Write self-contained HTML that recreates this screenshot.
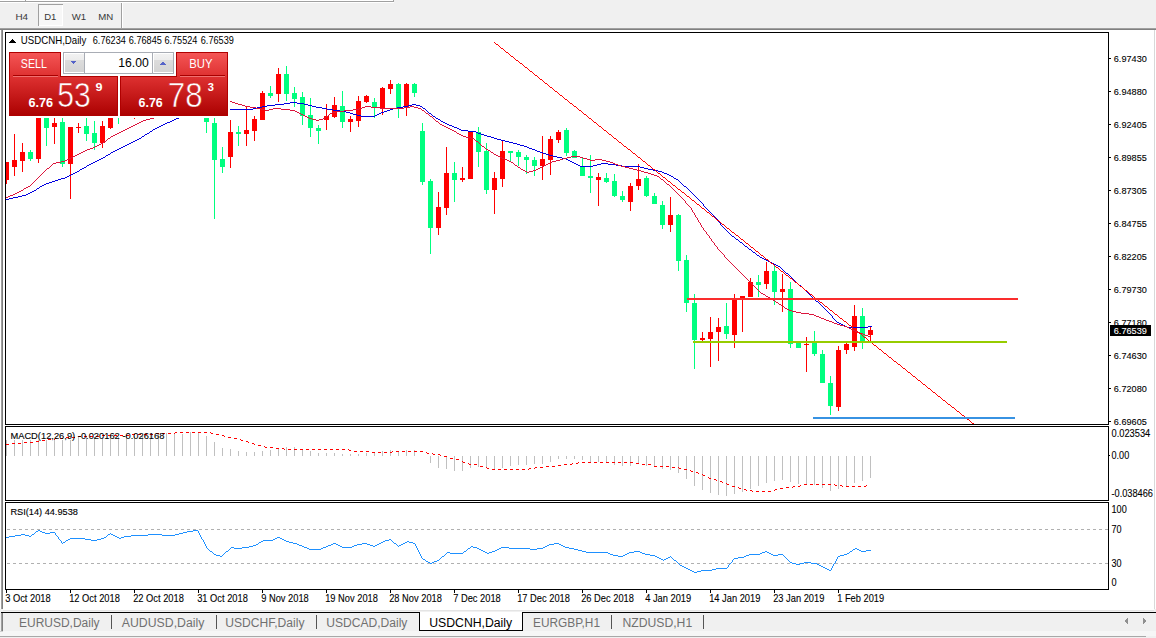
<!DOCTYPE html>
<html><head><meta charset="utf-8"><style>
html,body{margin:0;padding:0;background:#fff;overflow:hidden}
svg{display:block}
text{font-family:"Liberation Sans",sans-serif}
.b{stroke:#000;stroke-width:.12px}
.bw{stroke:#fff;stroke-width:.1px}
.b1{stroke:#000;stroke-width:.1px}
</style></head><body>
<svg width="1156" height="638" viewBox="0 0 1156 638" shape-rendering="crispEdges">
<rect x="0" y="0" width="1156" height="30" fill="#f0f0f0"/>
<rect x="0" y="0" width="394" height="1" fill="#ffffff"/>
<rect x="0" y="1" width="394" height="1" fill="#a0a0a0"/>
<rect x="393" y="0" width="1" height="2" fill="#a0a0a0"/>
<rect x="25" y="0" width="1" height="2" fill="#a0a0a0"/>
<rect x="0" y="2" width="394" height="1" fill="#ffffff"/>
<rect x="38" y="4" width="25" height="22" fill="#f7f7f7"/>
<rect x="38" y="4" width="25" height="1" fill="#a0a0a0"/>
<rect x="38" y="4" width="1" height="22" fill="#a0a0a0"/>
<rect x="62" y="5" width="1" height="21" fill="#ffffff"/>
<rect x="39" y="25" width="24" height="1" fill="#ffffff"/>
<text x="15.4" y="19.8" font-size="9.2" fill="#383838" textLength="12.6" lengthAdjust="spacingAndGlyphs">H4</text>
<text x="44.2" y="19.8" font-size="9.2" fill="#383838" textLength="12.2" lengthAdjust="spacingAndGlyphs">D1</text>
<text x="71.8" y="19.8" font-size="9.2" fill="#383838" textLength="14.4" lengthAdjust="spacingAndGlyphs">W1</text>
<text x="98.2" y="19.8" font-size="9.2" fill="#383838" textLength="15.0" lengthAdjust="spacingAndGlyphs">MN</text>
<rect x="121" y="3" width="1" height="25" fill="#a0a0a0"/>
<rect x="122" y="3" width="1" height="25" fill="#ffffff"/>
<rect x="0" y="28" width="1156" height="1" fill="#a0a0a0"/>
<rect x="0" y="29" width="1156" height="1" fill="#808080"/>
<rect x="0" y="30" width="1156" height="580" fill="#ffffff"/>
<rect x="1" y="30" width="1" height="580" fill="#a0a0a0"/>
<rect x="2" y="30" width="1" height="580" fill="#808080"/>
<rect x="1154" y="30" width="1" height="583" fill="#d8d8d8"/>
<defs><clipPath id="cm"><rect x="6" y="33" width="1102" height="391"/></clipPath>
<clipPath id="cmacd"><rect x="6" y="427" width="1102" height="73"/></clipPath>
<clipPath id="crsi"><rect x="6" y="503" width="1102" height="86"/></clipPath>
<linearGradient id="gboxu" gradientUnits="userSpaceOnUse" x1="0" y1="76" x2="0" y2="115.5"><stop offset="0" stop-color="#d82828"/><stop offset="1" stop-color="#ac0000"/></linearGradient>
</defs>
<g clip-path="url(#cm)">
<rect x="6" y="162" width="1" height="22" fill="#ff0000"/>
<rect x="4" y="162" width="5" height="18" fill="#ff0000"/>
<rect x="14" y="134" width="1" height="42" fill="#ff0000"/>
<rect x="12" y="160" width="5" height="7" fill="#ff0000"/>
<rect x="22" y="143" width="1" height="29" fill="#ff0000"/>
<rect x="20" y="152" width="5" height="9" fill="#ff0000"/>
<rect x="30" y="150" width="1" height="11" fill="#00ff7f"/>
<rect x="28" y="152" width="5" height="7" fill="#00ff7f"/>
<rect x="38" y="100" width="1" height="63" fill="#ff0000"/>
<rect x="36" y="100" width="5" height="59" fill="#ff0000"/>
<rect x="46" y="100" width="1" height="46" fill="#00ff7f"/>
<rect x="44" y="100" width="5" height="28" fill="#00ff7f"/>
<rect x="54" y="100" width="1" height="44" fill="#ff0000"/>
<rect x="52" y="123" width="5" height="4" fill="#ff0000"/>
<rect x="62" y="100" width="1" height="67" fill="#00ff7f"/>
<rect x="60" y="122" width="5" height="42" fill="#00ff7f"/>
<rect x="70" y="127" width="1" height="72" fill="#ff0000"/>
<rect x="68" y="127" width="5" height="37" fill="#ff0000"/>
<rect x="78" y="123" width="1" height="10" fill="#ff0000"/>
<rect x="76" y="127" width="5" height="1" fill="#ff0000"/>
<rect x="86" y="100" width="1" height="41" fill="#00ff7f"/>
<rect x="84" y="126" width="5" height="8" fill="#00ff7f"/>
<rect x="94" y="121" width="1" height="29" fill="#00ff7f"/>
<rect x="92" y="133" width="5" height="10" fill="#00ff7f"/>
<rect x="102" y="121" width="1" height="27" fill="#ff0000"/>
<rect x="100" y="126" width="5" height="17" fill="#ff0000"/>
<rect x="110" y="100" width="1" height="29" fill="#ff0000"/>
<rect x="108" y="100" width="5" height="28" fill="#ff0000"/>
<rect x="118" y="100" width="1" height="24" fill="#00ff7f"/>
<rect x="116" y="100" width="5" height="17" fill="#00ff7f"/>
<rect x="134" y="100" width="1" height="19" fill="#ff0000"/>
<rect x="132" y="100" width="5" height="5" fill="#ff0000"/>
<rect x="206" y="100" width="1" height="33" fill="#00ff7f"/>
<rect x="204" y="118" width="5" height="4" fill="#00ff7f"/>
<rect x="214" y="118" width="1" height="101" fill="#00ff7f"/>
<rect x="212" y="123" width="5" height="37" fill="#00ff7f"/>
<rect x="222" y="147" width="1" height="26" fill="#00ff7f"/>
<rect x="220" y="159" width="5" height="8" fill="#00ff7f"/>
<rect x="230" y="120" width="1" height="48" fill="#ff0000"/>
<rect x="228" y="132" width="5" height="25" fill="#ff0000"/>
<rect x="238" y="126" width="1" height="20" fill="#00ff7f"/>
<rect x="236" y="132" width="5" height="2" fill="#00ff7f"/>
<rect x="246" y="106" width="1" height="40" fill="#ff0000"/>
<rect x="244" y="130" width="5" height="4" fill="#ff0000"/>
<rect x="254" y="116" width="1" height="25" fill="#ff0000"/>
<rect x="252" y="119" width="5" height="12" fill="#ff0000"/>
<rect x="262" y="91" width="1" height="29" fill="#ff0000"/>
<rect x="260" y="93" width="5" height="27" fill="#ff0000"/>
<rect x="270" y="86" width="1" height="12" fill="#00ff7f"/>
<rect x="268" y="93" width="5" height="3" fill="#00ff7f"/>
<rect x="278" y="68" width="1" height="34" fill="#ff0000"/>
<rect x="276" y="74" width="5" height="20" fill="#ff0000"/>
<rect x="286" y="66" width="1" height="35" fill="#00ff7f"/>
<rect x="284" y="74" width="5" height="20" fill="#00ff7f"/>
<rect x="294" y="87" width="1" height="20" fill="#00ff7f"/>
<rect x="292" y="93" width="5" height="6" fill="#00ff7f"/>
<rect x="302" y="92" width="1" height="33" fill="#00ff7f"/>
<rect x="300" y="97" width="5" height="19" fill="#00ff7f"/>
<rect x="310" y="98" width="1" height="39" fill="#00ff7f"/>
<rect x="308" y="115" width="5" height="13" fill="#00ff7f"/>
<rect x="318" y="125" width="1" height="19" fill="#00ff7f"/>
<rect x="316" y="128" width="5" height="3" fill="#00ff7f"/>
<rect x="326" y="104" width="1" height="26" fill="#ff0000"/>
<rect x="324" y="116" width="5" height="4" fill="#ff0000"/>
<rect x="334" y="97" width="1" height="21" fill="#ff0000"/>
<rect x="332" y="105" width="5" height="12" fill="#ff0000"/>
<rect x="342" y="91" width="1" height="37" fill="#00ff7f"/>
<rect x="340" y="106" width="5" height="16" fill="#00ff7f"/>
<rect x="350" y="116" width="1" height="16" fill="#ff0000"/>
<rect x="348" y="119" width="5" height="3" fill="#ff0000"/>
<rect x="358" y="96" width="1" height="31" fill="#ff0000"/>
<rect x="356" y="101" width="5" height="20" fill="#ff0000"/>
<rect x="366" y="95" width="1" height="8" fill="#ff0000"/>
<rect x="364" y="96" width="5" height="6" fill="#ff0000"/>
<rect x="374" y="98" width="1" height="20" fill="#00ff7f"/>
<rect x="372" y="102" width="5" height="6" fill="#00ff7f"/>
<rect x="382" y="87" width="1" height="28" fill="#ff0000"/>
<rect x="380" y="88" width="5" height="20" fill="#ff0000"/>
<rect x="390" y="80" width="1" height="14" fill="#ff0000"/>
<rect x="388" y="84" width="5" height="5" fill="#ff0000"/>
<rect x="398" y="83" width="1" height="35" fill="#00ff7f"/>
<rect x="396" y="84" width="5" height="24" fill="#00ff7f"/>
<rect x="406" y="83" width="1" height="33" fill="#ff0000"/>
<rect x="404" y="84" width="5" height="24" fill="#ff0000"/>
<rect x="414" y="83" width="1" height="14" fill="#00ff7f"/>
<rect x="412" y="84" width="5" height="9" fill="#00ff7f"/>
<rect x="422" y="123" width="1" height="62" fill="#00ff7f"/>
<rect x="420" y="131" width="5" height="51" fill="#00ff7f"/>
<rect x="430" y="179" width="1" height="75" fill="#00ff7f"/>
<rect x="428" y="181" width="5" height="47" fill="#00ff7f"/>
<rect x="438" y="192" width="1" height="43" fill="#ff0000"/>
<rect x="436" y="207" width="5" height="21" fill="#ff0000"/>
<rect x="446" y="147" width="1" height="68" fill="#ff0000"/>
<rect x="444" y="173" width="5" height="35" fill="#ff0000"/>
<rect x="454" y="162" width="1" height="40" fill="#00ff7f"/>
<rect x="452" y="173" width="5" height="7" fill="#00ff7f"/>
<rect x="462" y="167" width="1" height="15" fill="#ff0000"/>
<rect x="460" y="178" width="5" height="2" fill="#ff0000"/>
<rect x="470" y="131" width="1" height="48" fill="#ff0000"/>
<rect x="468" y="131" width="5" height="48" fill="#ff0000"/>
<rect x="478" y="127" width="1" height="40" fill="#00ff7f"/>
<rect x="476" y="132" width="5" height="20" fill="#00ff7f"/>
<rect x="486" y="143" width="1" height="51" fill="#00ff7f"/>
<rect x="484" y="151" width="5" height="39" fill="#00ff7f"/>
<rect x="494" y="172" width="1" height="42" fill="#ff0000"/>
<rect x="492" y="178" width="5" height="12" fill="#ff0000"/>
<rect x="502" y="141" width="1" height="46" fill="#ff0000"/>
<rect x="500" y="151" width="5" height="28" fill="#ff0000"/>
<rect x="510" y="151" width="1" height="11" fill="#00ff7f"/>
<rect x="508" y="151" width="5" height="2" fill="#00ff7f"/>
<rect x="518" y="150" width="1" height="16" fill="#00ff7f"/>
<rect x="516" y="152" width="5" height="5" fill="#00ff7f"/>
<rect x="526" y="155" width="1" height="19" fill="#00ff7f"/>
<rect x="524" y="157" width="5" height="3" fill="#00ff7f"/>
<rect x="534" y="157" width="1" height="19" fill="#00ff7f"/>
<rect x="532" y="160" width="5" height="6" fill="#00ff7f"/>
<rect x="542" y="136" width="1" height="44" fill="#ff0000"/>
<rect x="540" y="159" width="5" height="7" fill="#ff0000"/>
<rect x="550" y="136" width="1" height="39" fill="#ff0000"/>
<rect x="548" y="139" width="5" height="21" fill="#ff0000"/>
<rect x="558" y="130" width="1" height="13" fill="#ff0000"/>
<rect x="556" y="132" width="5" height="8" fill="#ff0000"/>
<rect x="566" y="128" width="1" height="28" fill="#00ff7f"/>
<rect x="564" y="130" width="5" height="23" fill="#00ff7f"/>
<rect x="574" y="150" width="1" height="8" fill="#00ff7f"/>
<rect x="572" y="151" width="5" height="7" fill="#00ff7f"/>
<rect x="582" y="157" width="1" height="19" fill="#00ff7f"/>
<rect x="580" y="166" width="5" height="10" fill="#00ff7f"/>
<rect x="590" y="155" width="1" height="38" fill="#00ff7f"/>
<rect x="588" y="176" width="5" height="2" fill="#00ff7f"/>
<rect x="598" y="173" width="1" height="33" fill="#ff0000"/>
<rect x="596" y="177" width="5" height="3" fill="#ff0000"/>
<rect x="606" y="173" width="1" height="10" fill="#00ff7f"/>
<rect x="604" y="178" width="5" height="4" fill="#00ff7f"/>
<rect x="614" y="174" width="1" height="23" fill="#00ff7f"/>
<rect x="612" y="181" width="5" height="15" fill="#00ff7f"/>
<rect x="622" y="191" width="1" height="11" fill="#00ff7f"/>
<rect x="620" y="196" width="5" height="4" fill="#00ff7f"/>
<rect x="630" y="183" width="1" height="28" fill="#ff0000"/>
<rect x="628" y="186" width="5" height="16" fill="#ff0000"/>
<rect x="638" y="164" width="1" height="26" fill="#ff0000"/>
<rect x="636" y="179" width="5" height="7" fill="#ff0000"/>
<rect x="646" y="176" width="1" height="21" fill="#00ff7f"/>
<rect x="644" y="178" width="5" height="18" fill="#00ff7f"/>
<rect x="654" y="193" width="1" height="11" fill="#00ff7f"/>
<rect x="652" y="196" width="5" height="8" fill="#00ff7f"/>
<rect x="662" y="201" width="1" height="28" fill="#00ff7f"/>
<rect x="660" y="205" width="5" height="20" fill="#00ff7f"/>
<rect x="670" y="197" width="1" height="35" fill="#ff0000"/>
<rect x="668" y="215" width="5" height="10" fill="#ff0000"/>
<rect x="678" y="214" width="1" height="57" fill="#00ff7f"/>
<rect x="676" y="215" width="5" height="46" fill="#00ff7f"/>
<rect x="686" y="255" width="1" height="57" fill="#00ff7f"/>
<rect x="684" y="260" width="5" height="43" fill="#00ff7f"/>
<rect x="694" y="294" width="1" height="75" fill="#00ff7f"/>
<rect x="692" y="303" width="5" height="37" fill="#00ff7f"/>
<rect x="702" y="332" width="1" height="9" fill="#ff0000"/>
<rect x="700" y="338" width="5" height="2" fill="#ff0000"/>
<rect x="710" y="317" width="1" height="50" fill="#ff0000"/>
<rect x="708" y="332" width="5" height="7" fill="#ff0000"/>
<rect x="718" y="318" width="1" height="43" fill="#ff0000"/>
<rect x="716" y="327" width="5" height="5" fill="#ff0000"/>
<rect x="726" y="303" width="1" height="36" fill="#00ff7f"/>
<rect x="724" y="326" width="5" height="8" fill="#00ff7f"/>
<rect x="734" y="294" width="1" height="54" fill="#ff0000"/>
<rect x="732" y="298" width="5" height="37" fill="#ff0000"/>
<rect x="742" y="296" width="1" height="36" fill="#ff0000"/>
<rect x="740" y="296" width="5" height="2" fill="#ff0000"/>
<rect x="750" y="278" width="1" height="19" fill="#ff0000"/>
<rect x="748" y="282" width="5" height="15" fill="#ff0000"/>
<rect x="758" y="275" width="1" height="22" fill="#00ff7f"/>
<rect x="756" y="282" width="5" height="3" fill="#00ff7f"/>
<rect x="766" y="262" width="1" height="27" fill="#ff0000"/>
<rect x="764" y="271" width="5" height="13" fill="#ff0000"/>
<rect x="774" y="265" width="1" height="40" fill="#00ff7f"/>
<rect x="772" y="271" width="5" height="21" fill="#00ff7f"/>
<rect x="782" y="274" width="1" height="38" fill="#ff0000"/>
<rect x="780" y="289" width="5" height="3" fill="#ff0000"/>
<rect x="790" y="282" width="1" height="66" fill="#00ff7f"/>
<rect x="788" y="289" width="5" height="55" fill="#00ff7f"/>
<rect x="798" y="343" width="1" height="5" fill="#00ff7f"/>
<rect x="796" y="343" width="5" height="5" fill="#00ff7f"/>
<rect x="806" y="337" width="1" height="35" fill="#ff0000"/>
<rect x="804" y="344" width="5" height="1" fill="#ff0000"/>
<rect x="814" y="331" width="1" height="25" fill="#00ff7f"/>
<rect x="812" y="343" width="5" height="11" fill="#00ff7f"/>
<rect x="822" y="350" width="1" height="33" fill="#00ff7f"/>
<rect x="820" y="354" width="5" height="29" fill="#00ff7f"/>
<rect x="830" y="376" width="1" height="39" fill="#00ff7f"/>
<rect x="828" y="383" width="5" height="23" fill="#00ff7f"/>
<rect x="838" y="346" width="1" height="65" fill="#ff0000"/>
<rect x="836" y="350" width="5" height="57" fill="#ff0000"/>
<rect x="846" y="343" width="1" height="11" fill="#ff0000"/>
<rect x="844" y="344" width="5" height="6" fill="#ff0000"/>
<rect x="854" y="305" width="1" height="46" fill="#ff0000"/>
<rect x="852" y="316" width="5" height="31" fill="#ff0000"/>
<rect x="862" y="308" width="1" height="41" fill="#00ff7f"/>
<rect x="860" y="316" width="5" height="26" fill="#00ff7f"/>
<rect x="870" y="326" width="1" height="15" fill="#ff0000"/>
<rect x="868" y="330" width="5" height="5" fill="#ff0000"/>
<g fill="#0000e0"><rect x="290" y="102" width="7" height="1"/><rect x="284" y="103" width="6" height="1"/><rect x="297" y="103" width="7" height="1"/><rect x="275" y="104" width="9" height="1"/><rect x="304" y="104" width="4" height="1"/><rect x="412" y="104" width="4" height="1"/><rect x="267" y="105" width="8" height="1"/><rect x="308" y="105" width="4" height="1"/><rect x="408" y="105" width="4" height="1"/><rect x="416" y="105" width="4" height="1"/><rect x="262" y="106" width="5" height="1"/><rect x="312" y="106" width="4" height="1"/><rect x="403" y="106" width="5" height="1"/><rect x="420" y="106" width="2" height="1"/><rect x="257" y="107" width="5" height="1"/><rect x="316" y="107" width="6" height="1"/><rect x="397" y="107" width="6" height="1"/><rect x="422" y="107" width="1" height="1"/><rect x="253" y="108" width="4" height="1"/><rect x="322" y="108" width="5" height="1"/><rect x="393" y="108" width="4" height="1"/><rect x="423" y="108" width="2" height="1"/><rect x="215" y="109" width="38" height="1"/><rect x="327" y="109" width="6" height="1"/><rect x="390" y="109" width="3" height="1"/><rect x="425" y="109" width="1" height="1"/><rect x="199" y="110" width="16" height="1"/><rect x="333" y="110" width="7" height="1"/><rect x="387" y="110" width="3" height="1"/><rect x="426" y="110" width="1" height="1"/><rect x="196" y="111" width="3" height="1"/><rect x="340" y="111" width="6" height="1"/><rect x="384" y="111" width="3" height="1"/><rect x="427" y="111" width="1" height="1"/><rect x="193" y="112" width="3" height="1"/><rect x="346" y="112" width="4" height="1"/><rect x="381" y="112" width="3" height="1"/><rect x="428" y="112" width="1" height="1"/><rect x="190" y="113" width="3" height="1"/><rect x="350" y="113" width="3" height="1"/><rect x="379" y="113" width="2" height="1"/><rect x="429" y="113" width="2" height="1"/><rect x="188" y="114" width="2" height="1"/><rect x="353" y="114" width="4" height="1"/><rect x="377" y="114" width="2" height="1"/><rect x="431" y="114" width="1" height="1"/><rect x="185" y="115" width="3" height="1"/><rect x="357" y="115" width="4" height="1"/><rect x="375" y="115" width="2" height="1"/><rect x="432" y="115" width="1" height="1"/><rect x="182" y="116" width="3" height="1"/><rect x="361" y="116" width="14" height="1"/><rect x="433" y="116" width="2" height="1"/><rect x="179" y="117" width="3" height="1"/><rect x="435" y="117" width="1" height="1"/><rect x="176" y="118" width="3" height="1"/><rect x="436" y="118" width="2" height="1"/><rect x="174" y="119" width="2" height="1"/><rect x="438" y="119" width="2" height="1"/><rect x="172" y="120" width="2" height="1"/><rect x="440" y="120" width="1" height="1"/><rect x="170" y="121" width="2" height="1"/><rect x="441" y="121" width="2" height="1"/><rect x="167" y="122" width="3" height="1"/><rect x="443" y="122" width="2" height="1"/><rect x="165" y="123" width="2" height="1"/><rect x="445" y="123" width="2" height="1"/><rect x="163" y="124" width="2" height="1"/><rect x="447" y="124" width="2" height="1"/><rect x="161" y="125" width="2" height="1"/><rect x="449" y="125" width="3" height="1"/><rect x="159" y="126" width="2" height="1"/><rect x="452" y="126" width="2" height="1"/><rect x="157" y="127" width="2" height="1"/><rect x="454" y="127" width="3" height="1"/><rect x="155" y="128" width="2" height="1"/><rect x="457" y="128" width="2" height="1"/><rect x="153" y="129" width="2" height="1"/><rect x="459" y="129" width="2" height="1"/><rect x="152" y="130" width="1" height="1"/><rect x="461" y="130" width="7" height="1"/><rect x="150" y="131" width="2" height="1"/><rect x="468" y="131" width="8" height="1"/><rect x="149" y="132" width="1" height="1"/><rect x="476" y="132" width="2" height="1"/><rect x="147" y="133" width="2" height="1"/><rect x="478" y="133" width="3" height="1"/><rect x="145" y="134" width="2" height="1"/><rect x="481" y="134" width="3" height="1"/><rect x="144" y="135" width="1" height="1"/><rect x="484" y="135" width="3" height="1"/><rect x="142" y="136" width="2" height="1"/><rect x="487" y="136" width="4" height="1"/><rect x="141" y="137" width="1" height="1"/><rect x="491" y="137" width="3" height="1"/><rect x="139" y="138" width="2" height="1"/><rect x="494" y="138" width="3" height="1"/><rect x="137" y="139" width="2" height="1"/><rect x="497" y="139" width="4" height="1"/><rect x="135" y="140" width="2" height="1"/><rect x="501" y="140" width="4" height="1"/><rect x="133" y="141" width="2" height="1"/><rect x="505" y="141" width="4" height="1"/><rect x="131" y="142" width="2" height="1"/><rect x="509" y="142" width="4" height="1"/><rect x="129" y="143" width="2" height="1"/><rect x="513" y="143" width="4" height="1"/><rect x="127" y="144" width="2" height="1"/><rect x="517" y="144" width="3" height="1"/><rect x="125" y="145" width="2" height="1"/><rect x="520" y="145" width="4" height="1"/><rect x="123" y="146" width="2" height="1"/><rect x="524" y="146" width="3" height="1"/><rect x="121" y="147" width="2" height="1"/><rect x="527" y="147" width="2" height="1"/><rect x="119" y="148" width="2" height="1"/><rect x="529" y="148" width="3" height="1"/><rect x="117" y="149" width="2" height="1"/><rect x="532" y="149" width="3" height="1"/><rect x="115" y="150" width="2" height="1"/><rect x="535" y="150" width="2" height="1"/><rect x="113" y="151" width="2" height="1"/><rect x="537" y="151" width="3" height="1"/><rect x="111" y="152" width="2" height="1"/><rect x="540" y="152" width="3" height="1"/><rect x="110" y="153" width="1" height="1"/><rect x="543" y="153" width="3" height="1"/><rect x="108" y="154" width="2" height="1"/><rect x="546" y="154" width="3" height="1"/><rect x="106" y="155" width="2" height="1"/><rect x="549" y="155" width="4" height="1"/><rect x="105" y="156" width="1" height="1"/><rect x="553" y="156" width="4" height="1"/><rect x="103" y="157" width="2" height="1"/><rect x="557" y="157" width="5" height="1"/><rect x="101" y="158" width="2" height="1"/><rect x="562" y="158" width="4" height="1"/><rect x="99" y="159" width="2" height="1"/><rect x="566" y="159" width="2" height="1"/><rect x="97" y="160" width="2" height="1"/><rect x="568" y="160" width="2" height="1"/><rect x="95" y="161" width="2" height="1"/><rect x="570" y="161" width="2" height="1"/><rect x="93" y="162" width="2" height="1"/><rect x="572" y="162" width="2" height="1"/><rect x="91" y="163" width="2" height="1"/><rect x="574" y="163" width="2" height="1"/><rect x="601" y="163" width="7" height="1"/><rect x="89" y="164" width="2" height="1"/><rect x="576" y="164" width="2" height="1"/><rect x="597" y="164" width="4" height="1"/><rect x="608" y="164" width="8" height="1"/><rect x="87" y="165" width="2" height="1"/><rect x="578" y="165" width="2" height="1"/><rect x="593" y="165" width="4" height="1"/><rect x="616" y="165" width="6" height="1"/><rect x="86" y="166" width="1" height="1"/><rect x="580" y="166" width="13" height="1"/><rect x="622" y="166" width="18" height="1"/><rect x="84" y="167" width="2" height="1"/><rect x="640" y="167" width="4" height="1"/><rect x="82" y="168" width="2" height="1"/><rect x="644" y="168" width="4" height="1"/><rect x="80" y="169" width="2" height="1"/><rect x="648" y="169" width="5" height="1"/><rect x="79" y="170" width="1" height="1"/><rect x="653" y="170" width="5" height="1"/><rect x="77" y="171" width="2" height="1"/><rect x="658" y="171" width="4" height="1"/><rect x="75" y="172" width="2" height="1"/><rect x="662" y="172" width="2" height="1"/><rect x="73" y="173" width="2" height="1"/><rect x="664" y="173" width="3" height="1"/><rect x="71" y="174" width="2" height="1"/><rect x="667" y="174" width="2" height="1"/><rect x="69" y="175" width="2" height="1"/><rect x="669" y="175" width="2" height="1"/><rect x="67" y="176" width="2" height="1"/><rect x="671" y="176" width="2" height="1"/><rect x="65" y="177" width="2" height="1"/><rect x="673" y="177" width="1" height="1"/><rect x="61" y="178" width="4" height="1"/><rect x="674" y="178" width="2" height="1"/><rect x="58" y="179" width="3" height="1"/><rect x="676" y="179" width="2" height="1"/><rect x="55" y="180" width="3" height="1"/><rect x="678" y="180" width="1" height="1"/><rect x="52" y="181" width="3" height="1"/><rect x="679" y="181" width="1" height="1"/><rect x="49" y="182" width="3" height="1"/><rect x="680" y="182" width="1" height="1"/><rect x="46" y="183" width="3" height="1"/><rect x="681" y="183" width="1" height="1"/><rect x="44" y="184" width="2" height="1"/><rect x="682" y="184" width="1" height="1"/><rect x="42" y="185" width="2" height="1"/><rect x="683" y="185" width="1" height="1"/><rect x="40" y="186" width="2" height="1"/><rect x="684" y="186" width="2" height="1"/><rect x="39" y="187" width="1" height="1"/><rect x="686" y="187" width="1" height="1"/><rect x="37" y="188" width="2" height="1"/><rect x="687" y="188" width="1" height="1"/><rect x="36" y="189" width="1" height="1"/><rect x="688" y="189" width="1" height="1"/><rect x="34" y="190" width="2" height="1"/><rect x="689" y="190" width="1" height="1"/><rect x="32" y="191" width="2" height="1"/><rect x="690" y="191" width="1" height="1"/><rect x="30" y="192" width="2" height="1"/><rect x="691" y="192" width="1" height="1"/><rect x="28" y="193" width="2" height="1"/><rect x="692" y="193" width="1" height="1"/><rect x="26" y="194" width="2" height="1"/><rect x="693" y="194" width="1" height="1"/><rect x="22" y="195" width="4" height="1"/><rect x="694" y="195" width="1" height="1"/><rect x="18" y="196" width="4" height="1"/><rect x="695" y="196" width="1" height="1"/><rect x="13" y="197" width="5" height="1"/><rect x="696" y="197" width="1" height="1"/><rect x="9" y="198" width="4" height="1"/><rect x="697" y="198" width="1" height="1"/><rect x="6" y="199" width="3" height="1"/><rect x="698" y="199" width="1" height="1"/><rect x="699" y="200" width="1" height="1"/><rect x="700" y="201" width="1" height="1"/><rect x="701" y="202" width="1" height="1"/><rect x="702" y="203" width="1" height="1"/><rect x="703" y="204" width="1" height="1"/><rect x="703" y="205" width="1" height="1"/><rect x="704" y="206" width="1" height="1"/><rect x="705" y="207" width="1" height="1"/><rect x="706" y="208" width="1" height="1"/><rect x="707" y="209" width="1" height="1"/><rect x="708" y="210" width="1" height="1"/><rect x="709" y="211" width="1" height="1"/><rect x="710" y="212" width="1" height="1"/><rect x="711" y="213" width="1" height="1"/><rect x="712" y="214" width="1" height="1"/><rect x="713" y="215" width="1" height="1"/><rect x="714" y="216" width="1" height="1"/><rect x="715" y="217" width="1" height="1"/><rect x="716" y="218" width="1" height="1"/><rect x="717" y="219" width="1" height="1"/><rect x="717" y="220" width="1" height="1"/><rect x="718" y="221" width="1" height="1"/><rect x="719" y="222" width="1" height="1"/><rect x="720" y="223" width="1" height="1"/><rect x="720" y="224" width="1" height="1"/><rect x="721" y="225" width="1" height="1"/><rect x="722" y="226" width="1" height="1"/><rect x="723" y="227" width="1" height="1"/><rect x="724" y="228" width="1" height="1"/><rect x="725" y="229" width="1" height="1"/><rect x="726" y="230" width="1" height="1"/><rect x="727" y="231" width="1" height="1"/><rect x="728" y="232" width="1" height="1"/><rect x="729" y="233" width="1" height="1"/><rect x="730" y="234" width="1" height="1"/><rect x="731" y="235" width="1" height="1"/><rect x="732" y="236" width="2" height="1"/><rect x="734" y="237" width="1" height="1"/><rect x="735" y="238" width="1" height="1"/><rect x="736" y="239" width="2" height="1"/><rect x="738" y="240" width="1" height="1"/><rect x="739" y="241" width="1" height="1"/><rect x="740" y="242" width="2" height="1"/><rect x="742" y="243" width="1" height="1"/><rect x="743" y="244" width="1" height="1"/><rect x="744" y="245" width="1" height="1"/><rect x="745" y="246" width="2" height="1"/><rect x="747" y="247" width="1" height="1"/><rect x="748" y="248" width="1" height="1"/><rect x="749" y="249" width="2" height="1"/><rect x="751" y="250" width="1" height="1"/><rect x="752" y="251" width="1" height="1"/><rect x="753" y="252" width="2" height="1"/><rect x="755" y="253" width="1" height="1"/><rect x="756" y="254" width="1" height="1"/><rect x="757" y="255" width="2" height="1"/><rect x="759" y="256" width="1" height="1"/><rect x="760" y="257" width="2" height="1"/><rect x="762" y="258" width="2" height="1"/><rect x="764" y="259" width="2" height="1"/><rect x="766" y="260" width="2" height="1"/><rect x="768" y="261" width="2" height="1"/><rect x="770" y="262" width="2" height="1"/><rect x="772" y="263" width="2" height="1"/><rect x="774" y="264" width="2" height="1"/><rect x="776" y="265" width="2" height="1"/><rect x="778" y="266" width="2" height="1"/><rect x="780" y="267" width="1" height="1"/><rect x="781" y="268" width="1" height="1"/><rect x="782" y="269" width="1" height="1"/><rect x="783" y="270" width="1" height="1"/><rect x="784" y="271" width="1" height="1"/><rect x="785" y="272" width="1" height="1"/><rect x="786" y="273" width="2" height="1"/><rect x="788" y="274" width="1" height="1"/><rect x="789" y="275" width="1" height="1"/><rect x="790" y="276" width="1" height="1"/><rect x="791" y="277" width="1" height="1"/><rect x="792" y="278" width="1" height="1"/><rect x="793" y="279" width="1" height="1"/><rect x="794" y="280" width="1" height="1"/><rect x="795" y="281" width="1" height="1"/><rect x="796" y="282" width="1" height="1"/><rect x="797" y="283" width="1" height="1"/><rect x="798" y="284" width="1" height="1"/><rect x="799" y="285" width="2" height="1"/><rect x="801" y="286" width="1" height="1"/><rect x="802" y="287" width="1" height="1"/><rect x="803" y="288" width="1" height="1"/><rect x="804" y="289" width="1" height="1"/><rect x="805" y="290" width="1" height="1"/><rect x="806" y="291" width="1" height="1"/><rect x="807" y="292" width="1" height="1"/><rect x="808" y="293" width="1" height="1"/><rect x="809" y="294" width="1" height="1"/><rect x="810" y="295" width="1" height="1"/><rect x="811" y="296" width="1" height="1"/><rect x="812" y="297" width="1" height="1"/><rect x="813" y="298" width="1" height="1"/><rect x="814" y="299" width="1" height="1"/><rect x="815" y="300" width="1" height="1"/><rect x="816" y="301" width="2" height="1"/><rect x="818" y="302" width="1" height="1"/><rect x="819" y="303" width="1" height="1"/><rect x="820" y="304" width="1" height="1"/><rect x="821" y="305" width="1" height="1"/><rect x="822" y="306" width="1" height="1"/><rect x="823" y="307" width="1" height="1"/><rect x="824" y="308" width="1" height="1"/><rect x="825" y="309" width="1" height="1"/><rect x="826" y="310" width="1" height="1"/><rect x="827" y="311" width="1" height="1"/><rect x="828" y="312" width="1" height="1"/><rect x="829" y="313" width="1" height="1"/><rect x="830" y="314" width="1" height="1"/><rect x="831" y="315" width="1" height="1"/><rect x="832" y="316" width="1" height="1"/><rect x="832" y="317" width="1" height="1"/><rect x="833" y="318" width="1" height="1"/><rect x="834" y="319" width="1" height="1"/><rect x="835" y="320" width="1" height="1"/><rect x="836" y="321" width="1" height="1"/><rect x="837" y="322" width="2" height="1"/><rect x="839" y="323" width="2" height="1"/><rect x="841" y="324" width="2" height="1"/><rect x="843" y="325" width="2" height="1"/><rect x="845" y="326" width="2" height="1"/><rect x="868" y="326" width="4" height="1"/><rect x="847" y="327" width="21" height="1"/></g>
<g fill="#dc143c"><rect x="227" y="101" width="5" height="1"/><rect x="219" y="102" width="8" height="1"/><rect x="232" y="102" width="3" height="1"/><rect x="212" y="103" width="7" height="1"/><rect x="235" y="103" width="3" height="1"/><rect x="204" y="104" width="8" height="1"/><rect x="238" y="104" width="4" height="1"/><rect x="199" y="105" width="5" height="1"/><rect x="242" y="105" width="3" height="1"/><rect x="195" y="106" width="4" height="1"/><rect x="245" y="106" width="5" height="1"/><rect x="365" y="106" width="6" height="1"/><rect x="410" y="106" width="4" height="1"/><rect x="192" y="107" width="3" height="1"/><rect x="250" y="107" width="6" height="1"/><rect x="362" y="107" width="3" height="1"/><rect x="371" y="107" width="9" height="1"/><rect x="404" y="107" width="6" height="1"/><rect x="414" y="107" width="4" height="1"/><rect x="188" y="108" width="4" height="1"/><rect x="256" y="108" width="5" height="1"/><rect x="273" y="108" width="8" height="1"/><rect x="359" y="108" width="3" height="1"/><rect x="380" y="108" width="24" height="1"/><rect x="418" y="108" width="3" height="1"/><rect x="184" y="109" width="4" height="1"/><rect x="261" y="109" width="4" height="1"/><rect x="269" y="109" width="4" height="1"/><rect x="281" y="109" width="9" height="1"/><rect x="353" y="109" width="6" height="1"/><rect x="421" y="109" width="1" height="1"/><rect x="181" y="110" width="3" height="1"/><rect x="265" y="110" width="4" height="1"/><rect x="290" y="110" width="5" height="1"/><rect x="344" y="110" width="9" height="1"/><rect x="422" y="110" width="2" height="1"/><rect x="177" y="111" width="4" height="1"/><rect x="295" y="111" width="2" height="1"/><rect x="336" y="111" width="8" height="1"/><rect x="424" y="111" width="1" height="1"/><rect x="174" y="112" width="3" height="1"/><rect x="297" y="112" width="2" height="1"/><rect x="332" y="112" width="4" height="1"/><rect x="425" y="112" width="1" height="1"/><rect x="170" y="113" width="4" height="1"/><rect x="299" y="113" width="2" height="1"/><rect x="330" y="113" width="2" height="1"/><rect x="426" y="113" width="2" height="1"/><rect x="166" y="114" width="4" height="1"/><rect x="301" y="114" width="2" height="1"/><rect x="329" y="114" width="1" height="1"/><rect x="428" y="114" width="1" height="1"/><rect x="162" y="115" width="4" height="1"/><rect x="303" y="115" width="2" height="1"/><rect x="328" y="115" width="1" height="1"/><rect x="429" y="115" width="1" height="1"/><rect x="158" y="116" width="4" height="1"/><rect x="305" y="116" width="2" height="1"/><rect x="326" y="116" width="2" height="1"/><rect x="430" y="116" width="2" height="1"/><rect x="154" y="117" width="4" height="1"/><rect x="307" y="117" width="2" height="1"/><rect x="325" y="117" width="1" height="1"/><rect x="432" y="117" width="1" height="1"/><rect x="150" y="118" width="4" height="1"/><rect x="309" y="118" width="3" height="1"/><rect x="323" y="118" width="2" height="1"/><rect x="433" y="118" width="1" height="1"/><rect x="146" y="119" width="4" height="1"/><rect x="312" y="119" width="4" height="1"/><rect x="319" y="119" width="4" height="1"/><rect x="434" y="119" width="1" height="1"/><rect x="143" y="120" width="3" height="1"/><rect x="316" y="120" width="3" height="1"/><rect x="435" y="120" width="1" height="1"/><rect x="141" y="121" width="2" height="1"/><rect x="436" y="121" width="2" height="1"/><rect x="139" y="122" width="2" height="1"/><rect x="438" y="122" width="1" height="1"/><rect x="137" y="123" width="2" height="1"/><rect x="439" y="123" width="1" height="1"/><rect x="135" y="124" width="2" height="1"/><rect x="440" y="124" width="2" height="1"/><rect x="133" y="125" width="2" height="1"/><rect x="442" y="125" width="2" height="1"/><rect x="131" y="126" width="2" height="1"/><rect x="444" y="126" width="2" height="1"/><rect x="129" y="127" width="2" height="1"/><rect x="446" y="127" width="2" height="1"/><rect x="127" y="128" width="2" height="1"/><rect x="448" y="128" width="2" height="1"/><rect x="125" y="129" width="2" height="1"/><rect x="450" y="129" width="2" height="1"/><rect x="123" y="130" width="2" height="1"/><rect x="452" y="130" width="2" height="1"/><rect x="121" y="131" width="2" height="1"/><rect x="454" y="131" width="2" height="1"/><rect x="119" y="132" width="2" height="1"/><rect x="456" y="132" width="1" height="1"/><rect x="117" y="133" width="2" height="1"/><rect x="457" y="133" width="2" height="1"/><rect x="115" y="134" width="2" height="1"/><rect x="459" y="134" width="2" height="1"/><rect x="113" y="135" width="2" height="1"/><rect x="461" y="135" width="2" height="1"/><rect x="111" y="136" width="2" height="1"/><rect x="463" y="136" width="3" height="1"/><rect x="110" y="137" width="1" height="1"/><rect x="466" y="137" width="5" height="1"/><rect x="108" y="138" width="2" height="1"/><rect x="471" y="138" width="3" height="1"/><rect x="107" y="139" width="1" height="1"/><rect x="474" y="139" width="1" height="1"/><rect x="106" y="140" width="1" height="1"/><rect x="475" y="140" width="1" height="1"/><rect x="104" y="141" width="2" height="1"/><rect x="476" y="141" width="2" height="1"/><rect x="103" y="142" width="1" height="1"/><rect x="478" y="142" width="1" height="1"/><rect x="101" y="143" width="2" height="1"/><rect x="479" y="143" width="1" height="1"/><rect x="99" y="144" width="2" height="1"/><rect x="480" y="144" width="1" height="1"/><rect x="97" y="145" width="2" height="1"/><rect x="481" y="145" width="1" height="1"/><rect x="95" y="146" width="2" height="1"/><rect x="482" y="146" width="2" height="1"/><rect x="93" y="147" width="2" height="1"/><rect x="484" y="147" width="1" height="1"/><rect x="90" y="148" width="3" height="1"/><rect x="485" y="148" width="1" height="1"/><rect x="87" y="149" width="3" height="1"/><rect x="486" y="149" width="2" height="1"/><rect x="85" y="150" width="2" height="1"/><rect x="488" y="150" width="2" height="1"/><rect x="83" y="151" width="2" height="1"/><rect x="490" y="151" width="1" height="1"/><rect x="81" y="152" width="2" height="1"/><rect x="491" y="152" width="2" height="1"/><rect x="79" y="153" width="2" height="1"/><rect x="493" y="153" width="1" height="1"/><rect x="77" y="154" width="2" height="1"/><rect x="494" y="154" width="2" height="1"/><rect x="75" y="155" width="2" height="1"/><rect x="496" y="155" width="2" height="1"/><rect x="73" y="156" width="2" height="1"/><rect x="498" y="156" width="2" height="1"/><rect x="571" y="156" width="9" height="1"/><rect x="71" y="157" width="2" height="1"/><rect x="500" y="157" width="2" height="1"/><rect x="567" y="157" width="4" height="1"/><rect x="580" y="157" width="3" height="1"/><rect x="69" y="158" width="2" height="1"/><rect x="502" y="158" width="2" height="1"/><rect x="563" y="158" width="4" height="1"/><rect x="583" y="158" width="4" height="1"/><rect x="67" y="159" width="2" height="1"/><rect x="504" y="159" width="3" height="1"/><rect x="560" y="159" width="3" height="1"/><rect x="587" y="159" width="3" height="1"/><rect x="595" y="159" width="7" height="1"/><rect x="65" y="160" width="2" height="1"/><rect x="507" y="160" width="2" height="1"/><rect x="556" y="160" width="4" height="1"/><rect x="590" y="160" width="5" height="1"/><rect x="602" y="160" width="4" height="1"/><rect x="61" y="161" width="4" height="1"/><rect x="509" y="161" width="2" height="1"/><rect x="552" y="161" width="4" height="1"/><rect x="606" y="161" width="4" height="1"/><rect x="56" y="162" width="5" height="1"/><rect x="511" y="162" width="2" height="1"/><rect x="550" y="162" width="2" height="1"/><rect x="610" y="162" width="3" height="1"/><rect x="53" y="163" width="3" height="1"/><rect x="513" y="163" width="1" height="1"/><rect x="548" y="163" width="2" height="1"/><rect x="613" y="163" width="2" height="1"/><rect x="52" y="164" width="1" height="1"/><rect x="514" y="164" width="1" height="1"/><rect x="546" y="164" width="2" height="1"/><rect x="615" y="164" width="3" height="1"/><rect x="51" y="165" width="1" height="1"/><rect x="515" y="165" width="2" height="1"/><rect x="544" y="165" width="2" height="1"/><rect x="618" y="165" width="3" height="1"/><rect x="50" y="166" width="1" height="1"/><rect x="517" y="166" width="1" height="1"/><rect x="542" y="166" width="2" height="1"/><rect x="621" y="166" width="4" height="1"/><rect x="49" y="167" width="1" height="1"/><rect x="518" y="167" width="2" height="1"/><rect x="540" y="167" width="2" height="1"/><rect x="625" y="167" width="4" height="1"/><rect x="47" y="168" width="2" height="1"/><rect x="520" y="168" width="1" height="1"/><rect x="538" y="168" width="2" height="1"/><rect x="629" y="168" width="4" height="1"/><rect x="46" y="169" width="1" height="1"/><rect x="521" y="169" width="2" height="1"/><rect x="536" y="169" width="2" height="1"/><rect x="633" y="169" width="4" height="1"/><rect x="45" y="170" width="1" height="1"/><rect x="523" y="170" width="2" height="1"/><rect x="533" y="170" width="3" height="1"/><rect x="637" y="170" width="4" height="1"/><rect x="44" y="171" width="1" height="1"/><rect x="525" y="171" width="2" height="1"/><rect x="529" y="171" width="4" height="1"/><rect x="641" y="171" width="3" height="1"/><rect x="43" y="172" width="1" height="1"/><rect x="527" y="172" width="2" height="1"/><rect x="644" y="172" width="4" height="1"/><rect x="42" y="173" width="1" height="1"/><rect x="648" y="173" width="3" height="1"/><rect x="41" y="174" width="1" height="1"/><rect x="651" y="174" width="3" height="1"/><rect x="40" y="175" width="1" height="1"/><rect x="654" y="175" width="3" height="1"/><rect x="39" y="176" width="1" height="1"/><rect x="657" y="176" width="2" height="1"/><rect x="38" y="177" width="1" height="1"/><rect x="659" y="177" width="1" height="1"/><rect x="37" y="178" width="1" height="1"/><rect x="660" y="178" width="1" height="1"/><rect x="36" y="179" width="1" height="1"/><rect x="661" y="179" width="2" height="1"/><rect x="35" y="180" width="1" height="1"/><rect x="663" y="180" width="1" height="1"/><rect x="34" y="181" width="1" height="1"/><rect x="664" y="181" width="1" height="1"/><rect x="33" y="182" width="1" height="1"/><rect x="665" y="182" width="1" height="1"/><rect x="32" y="183" width="1" height="1"/><rect x="666" y="183" width="1" height="1"/><rect x="31" y="184" width="1" height="1"/><rect x="667" y="184" width="2" height="1"/><rect x="30" y="185" width="1" height="1"/><rect x="669" y="185" width="1" height="1"/><rect x="28" y="186" width="2" height="1"/><rect x="670" y="186" width="1" height="1"/><rect x="26" y="187" width="2" height="1"/><rect x="671" y="187" width="1" height="1"/><rect x="24" y="188" width="2" height="1"/><rect x="672" y="188" width="1" height="1"/><rect x="23" y="189" width="1" height="1"/><rect x="673" y="189" width="1" height="1"/><rect x="21" y="190" width="2" height="1"/><rect x="674" y="190" width="1" height="1"/><rect x="19" y="191" width="2" height="1"/><rect x="675" y="191" width="1" height="1"/><rect x="17" y="192" width="2" height="1"/><rect x="676" y="192" width="1" height="1"/><rect x="15" y="193" width="2" height="1"/><rect x="677" y="193" width="1" height="1"/><rect x="13" y="194" width="2" height="1"/><rect x="678" y="194" width="1" height="1"/><rect x="10" y="195" width="3" height="1"/><rect x="679" y="195" width="1" height="1"/><rect x="8" y="196" width="2" height="1"/><rect x="680" y="196" width="1" height="1"/><rect x="6" y="197" width="2" height="1"/><rect x="681" y="197" width="1" height="1"/><rect x="682" y="198" width="1" height="1"/><rect x="683" y="199" width="1" height="1"/><rect x="684" y="200" width="1" height="1"/><rect x="685" y="201" width="1" height="1"/><rect x="685" y="202" width="1" height="1"/><rect x="686" y="203" width="1" height="1"/><rect x="687" y="204" width="1" height="1"/><rect x="688" y="205" width="1" height="1"/><rect x="689" y="206" width="1" height="1"/><rect x="690" y="207" width="1" height="1"/><rect x="691" y="208" width="1" height="1"/><rect x="691" y="209" width="1" height="1"/><rect x="692" y="210" width="1" height="1"/><rect x="692" y="211" width="1" height="1"/><rect x="693" y="212" width="1" height="1"/><rect x="694" y="213" width="1" height="1"/><rect x="694" y="214" width="1" height="1"/><rect x="695" y="215" width="1" height="1"/><rect x="695" y="216" width="1" height="1"/><rect x="696" y="217" width="1" height="1"/><rect x="697" y="218" width="1" height="1"/><rect x="697" y="219" width="1" height="1"/><rect x="698" y="220" width="1" height="1"/><rect x="698" y="221" width="1" height="1"/><rect x="699" y="222" width="1" height="1"/><rect x="700" y="223" width="1" height="1"/><rect x="700" y="224" width="1" height="1"/><rect x="701" y="225" width="1" height="1"/><rect x="701" y="226" width="1" height="1"/><rect x="702" y="227" width="1" height="1"/><rect x="703" y="228" width="1" height="1"/><rect x="703" y="229" width="1" height="1"/><rect x="704" y="230" width="1" height="1"/><rect x="705" y="231" width="1" height="1"/><rect x="706" y="232" width="1" height="1"/><rect x="706" y="233" width="1" height="1"/><rect x="707" y="234" width="1" height="1"/><rect x="708" y="235" width="1" height="1"/><rect x="709" y="236" width="1" height="1"/><rect x="709" y="237" width="1" height="1"/><rect x="710" y="238" width="1" height="1"/><rect x="711" y="239" width="1" height="1"/><rect x="711" y="240" width="1" height="1"/><rect x="712" y="241" width="1" height="1"/><rect x="713" y="242" width="1" height="1"/><rect x="714" y="243" width="1" height="1"/><rect x="714" y="244" width="1" height="1"/><rect x="715" y="245" width="1" height="1"/><rect x="716" y="246" width="1" height="1"/><rect x="717" y="247" width="1" height="1"/><rect x="717" y="248" width="1" height="1"/><rect x="718" y="249" width="1" height="1"/><rect x="719" y="250" width="1" height="1"/><rect x="720" y="251" width="1" height="1"/><rect x="721" y="252" width="1" height="1"/><rect x="722" y="253" width="1" height="1"/><rect x="723" y="254" width="1" height="1"/><rect x="724" y="255" width="1" height="1"/><rect x="724" y="256" width="1" height="1"/><rect x="725" y="257" width="1" height="1"/><rect x="726" y="258" width="1" height="1"/><rect x="727" y="259" width="1" height="1"/><rect x="728" y="260" width="1" height="1"/><rect x="729" y="261" width="1" height="1"/><rect x="730" y="262" width="1" height="1"/><rect x="731" y="263" width="1" height="1"/><rect x="732" y="264" width="1" height="1"/><rect x="733" y="265" width="1" height="1"/><rect x="734" y="266" width="1" height="1"/><rect x="735" y="267" width="1" height="1"/><rect x="736" y="268" width="1" height="1"/><rect x="737" y="269" width="1" height="1"/><rect x="738" y="270" width="1" height="1"/><rect x="739" y="271" width="1" height="1"/><rect x="740" y="272" width="1" height="1"/><rect x="741" y="273" width="1" height="1"/><rect x="742" y="274" width="1" height="1"/><rect x="743" y="275" width="1" height="1"/><rect x="744" y="276" width="1" height="1"/><rect x="745" y="277" width="1" height="1"/><rect x="746" y="278" width="1" height="1"/><rect x="747" y="279" width="1" height="1"/><rect x="748" y="280" width="1" height="1"/><rect x="749" y="281" width="1" height="1"/><rect x="750" y="282" width="1" height="1"/><rect x="751" y="283" width="1" height="1"/><rect x="752" y="284" width="1" height="1"/><rect x="753" y="285" width="1" height="1"/><rect x="754" y="286" width="1" height="1"/><rect x="755" y="287" width="1" height="1"/><rect x="756" y="288" width="1" height="1"/><rect x="757" y="289" width="1" height="1"/><rect x="758" y="290" width="1" height="1"/><rect x="759" y="291" width="1" height="1"/><rect x="760" y="292" width="1" height="1"/><rect x="761" y="293" width="2" height="1"/><rect x="763" y="294" width="2" height="1"/><rect x="765" y="295" width="1" height="1"/><rect x="766" y="296" width="2" height="1"/><rect x="768" y="297" width="2" height="1"/><rect x="770" y="298" width="1" height="1"/><rect x="771" y="299" width="2" height="1"/><rect x="773" y="300" width="2" height="1"/><rect x="775" y="301" width="1" height="1"/><rect x="776" y="302" width="2" height="1"/><rect x="778" y="303" width="1" height="1"/><rect x="779" y="304" width="2" height="1"/><rect x="781" y="305" width="1" height="1"/><rect x="782" y="306" width="2" height="1"/><rect x="784" y="307" width="1" height="1"/><rect x="785" y="308" width="2" height="1"/><rect x="787" y="309" width="2" height="1"/><rect x="789" y="310" width="3" height="1"/><rect x="792" y="311" width="4" height="1"/><rect x="796" y="312" width="5" height="1"/><rect x="801" y="313" width="8" height="1"/><rect x="809" y="314" width="5" height="1"/><rect x="814" y="315" width="2" height="1"/><rect x="816" y="316" width="3" height="1"/><rect x="819" y="317" width="2" height="1"/><rect x="821" y="318" width="3" height="1"/><rect x="824" y="319" width="2" height="1"/><rect x="826" y="320" width="3" height="1"/><rect x="829" y="321" width="3" height="1"/><rect x="832" y="322" width="2" height="1"/><rect x="834" y="323" width="3" height="1"/><rect x="837" y="324" width="3" height="1"/><rect x="840" y="325" width="4" height="1"/><rect x="844" y="326" width="3" height="1"/><rect x="847" y="327" width="2" height="1"/><rect x="849" y="328" width="2" height="1"/><rect x="851" y="329" width="2" height="1"/><rect x="853" y="330" width="2" height="1"/><rect x="855" y="331" width="2" height="1"/><rect x="857" y="332" width="3" height="1"/><rect x="860" y="333" width="3" height="1"/><rect x="863" y="334" width="2" height="1"/><rect x="865" y="335" width="3" height="1"/><rect x="868" y="336" width="2" height="1"/></g>
<g fill="#ff0000"><rect x="494" y="42" width="1" height="1"/><rect x="495" y="43" width="1" height="1"/><rect x="496" y="44" width="2" height="1"/><rect x="498" y="45" width="1" height="1"/><rect x="499" y="46" width="1" height="1"/><rect x="500" y="47" width="1" height="1"/><rect x="501" y="48" width="2" height="1"/><rect x="503" y="49" width="1" height="1"/><rect x="504" y="50" width="1" height="1"/><rect x="505" y="51" width="1" height="1"/><rect x="506" y="52" width="2" height="1"/><rect x="508" y="53" width="1" height="1"/><rect x="509" y="54" width="1" height="1"/><rect x="510" y="55" width="1" height="1"/><rect x="511" y="56" width="2" height="1"/><rect x="513" y="57" width="1" height="1"/><rect x="514" y="58" width="1" height="1"/><rect x="515" y="59" width="1" height="1"/><rect x="516" y="60" width="2" height="1"/><rect x="518" y="61" width="1" height="1"/><rect x="519" y="62" width="1" height="1"/><rect x="520" y="63" width="2" height="1"/><rect x="522" y="64" width="1" height="1"/><rect x="523" y="65" width="1" height="1"/><rect x="524" y="66" width="1" height="1"/><rect x="525" y="67" width="2" height="1"/><rect x="527" y="68" width="1" height="1"/><rect x="528" y="69" width="1" height="1"/><rect x="529" y="70" width="1" height="1"/><rect x="530" y="71" width="2" height="1"/><rect x="532" y="72" width="1" height="1"/><rect x="533" y="73" width="1" height="1"/><rect x="534" y="74" width="1" height="1"/><rect x="535" y="75" width="2" height="1"/><rect x="537" y="76" width="1" height="1"/><rect x="538" y="77" width="1" height="1"/><rect x="539" y="78" width="1" height="1"/><rect x="540" y="79" width="2" height="1"/><rect x="542" y="80" width="1" height="1"/><rect x="543" y="81" width="1" height="1"/><rect x="544" y="82" width="1" height="1"/><rect x="545" y="83" width="2" height="1"/><rect x="547" y="84" width="1" height="1"/><rect x="548" y="85" width="1" height="1"/><rect x="549" y="86" width="1" height="1"/><rect x="550" y="87" width="2" height="1"/><rect x="552" y="88" width="1" height="1"/><rect x="553" y="89" width="1" height="1"/><rect x="554" y="90" width="1" height="1"/><rect x="555" y="91" width="2" height="1"/><rect x="557" y="92" width="1" height="1"/><rect x="558" y="93" width="1" height="1"/><rect x="559" y="94" width="1" height="1"/><rect x="560" y="95" width="2" height="1"/><rect x="562" y="96" width="1" height="1"/><rect x="563" y="97" width="1" height="1"/><rect x="564" y="98" width="1" height="1"/><rect x="565" y="99" width="2" height="1"/><rect x="567" y="100" width="1" height="1"/><rect x="568" y="101" width="1" height="1"/><rect x="569" y="102" width="1" height="1"/><rect x="570" y="103" width="2" height="1"/><rect x="572" y="104" width="1" height="1"/><rect x="573" y="105" width="1" height="1"/><rect x="574" y="106" width="2" height="1"/><rect x="576" y="107" width="1" height="1"/><rect x="577" y="108" width="1" height="1"/><rect x="578" y="109" width="1" height="1"/><rect x="579" y="110" width="2" height="1"/><rect x="581" y="111" width="1" height="1"/><rect x="582" y="112" width="1" height="1"/><rect x="583" y="113" width="1" height="1"/><rect x="584" y="114" width="2" height="1"/><rect x="586" y="115" width="1" height="1"/><rect x="587" y="116" width="1" height="1"/><rect x="588" y="117" width="1" height="1"/><rect x="589" y="118" width="2" height="1"/><rect x="591" y="119" width="1" height="1"/><rect x="592" y="120" width="1" height="1"/><rect x="593" y="121" width="1" height="1"/><rect x="594" y="122" width="2" height="1"/><rect x="596" y="123" width="1" height="1"/><rect x="597" y="124" width="1" height="1"/><rect x="598" y="125" width="1" height="1"/><rect x="599" y="126" width="2" height="1"/><rect x="601" y="127" width="1" height="1"/><rect x="602" y="128" width="1" height="1"/><rect x="603" y="129" width="1" height="1"/><rect x="604" y="130" width="2" height="1"/><rect x="606" y="131" width="1" height="1"/><rect x="607" y="132" width="1" height="1"/><rect x="608" y="133" width="1" height="1"/><rect x="609" y="134" width="2" height="1"/><rect x="611" y="135" width="1" height="1"/><rect x="612" y="136" width="1" height="1"/><rect x="613" y="137" width="1" height="1"/><rect x="614" y="138" width="2" height="1"/><rect x="616" y="139" width="1" height="1"/><rect x="617" y="140" width="1" height="1"/><rect x="618" y="141" width="1" height="1"/><rect x="619" y="142" width="2" height="1"/><rect x="621" y="143" width="1" height="1"/><rect x="622" y="144" width="1" height="1"/><rect x="623" y="145" width="1" height="1"/><rect x="624" y="146" width="2" height="1"/><rect x="626" y="147" width="1" height="1"/><rect x="627" y="148" width="1" height="1"/><rect x="628" y="149" width="2" height="1"/><rect x="630" y="150" width="1" height="1"/><rect x="631" y="151" width="1" height="1"/><rect x="632" y="152" width="1" height="1"/><rect x="633" y="153" width="2" height="1"/><rect x="635" y="154" width="1" height="1"/><rect x="636" y="155" width="1" height="1"/><rect x="637" y="156" width="1" height="1"/><rect x="638" y="157" width="2" height="1"/><rect x="640" y="158" width="1" height="1"/><rect x="641" y="159" width="1" height="1"/><rect x="642" y="160" width="1" height="1"/><rect x="643" y="161" width="2" height="1"/><rect x="645" y="162" width="1" height="1"/><rect x="646" y="163" width="1" height="1"/><rect x="647" y="164" width="1" height="1"/><rect x="648" y="165" width="2" height="1"/><rect x="650" y="166" width="1" height="1"/><rect x="651" y="167" width="1" height="1"/><rect x="652" y="168" width="1" height="1"/><rect x="653" y="169" width="2" height="1"/><rect x="655" y="170" width="1" height="1"/><rect x="656" y="171" width="1" height="1"/><rect x="657" y="172" width="1" height="1"/><rect x="658" y="173" width="2" height="1"/><rect x="660" y="174" width="1" height="1"/><rect x="661" y="175" width="1" height="1"/><rect x="662" y="176" width="1" height="1"/><rect x="663" y="177" width="2" height="1"/><rect x="665" y="178" width="1" height="1"/><rect x="666" y="179" width="1" height="1"/><rect x="667" y="180" width="1" height="1"/><rect x="668" y="181" width="2" height="1"/><rect x="670" y="182" width="1" height="1"/><rect x="671" y="183" width="1" height="1"/><rect x="672" y="184" width="1" height="1"/><rect x="673" y="185" width="2" height="1"/><rect x="675" y="186" width="1" height="1"/><rect x="676" y="187" width="1" height="1"/><rect x="677" y="188" width="1" height="1"/><rect x="678" y="189" width="2" height="1"/><rect x="680" y="190" width="1" height="1"/><rect x="681" y="191" width="1" height="1"/><rect x="682" y="192" width="2" height="1"/><rect x="684" y="193" width="1" height="1"/><rect x="685" y="194" width="1" height="1"/><rect x="686" y="195" width="1" height="1"/><rect x="687" y="196" width="2" height="1"/><rect x="689" y="197" width="1" height="1"/><rect x="690" y="198" width="1" height="1"/><rect x="691" y="199" width="1" height="1"/><rect x="692" y="200" width="2" height="1"/><rect x="694" y="201" width="1" height="1"/><rect x="695" y="202" width="1" height="1"/><rect x="696" y="203" width="1" height="1"/><rect x="697" y="204" width="2" height="1"/><rect x="699" y="205" width="1" height="1"/><rect x="700" y="206" width="1" height="1"/><rect x="701" y="207" width="1" height="1"/><rect x="702" y="208" width="2" height="1"/><rect x="704" y="209" width="1" height="1"/><rect x="705" y="210" width="1" height="1"/><rect x="706" y="211" width="1" height="1"/><rect x="707" y="212" width="2" height="1"/><rect x="709" y="213" width="1" height="1"/><rect x="710" y="214" width="1" height="1"/><rect x="711" y="215" width="1" height="1"/><rect x="712" y="216" width="2" height="1"/><rect x="714" y="217" width="1" height="1"/><rect x="715" y="218" width="1" height="1"/><rect x="716" y="219" width="1" height="1"/><rect x="717" y="220" width="2" height="1"/><rect x="719" y="221" width="1" height="1"/><rect x="720" y="222" width="1" height="1"/><rect x="721" y="223" width="1" height="1"/><rect x="722" y="224" width="2" height="1"/><rect x="724" y="225" width="1" height="1"/><rect x="725" y="226" width="1" height="1"/><rect x="726" y="227" width="1" height="1"/><rect x="727" y="228" width="2" height="1"/><rect x="729" y="229" width="1" height="1"/><rect x="730" y="230" width="1" height="1"/><rect x="731" y="231" width="1" height="1"/><rect x="732" y="232" width="2" height="1"/><rect x="734" y="233" width="1" height="1"/><rect x="735" y="234" width="1" height="1"/><rect x="736" y="235" width="2" height="1"/><rect x="738" y="236" width="1" height="1"/><rect x="739" y="237" width="1" height="1"/><rect x="740" y="238" width="1" height="1"/><rect x="741" y="239" width="2" height="1"/><rect x="743" y="240" width="1" height="1"/><rect x="744" y="241" width="1" height="1"/><rect x="745" y="242" width="1" height="1"/><rect x="746" y="243" width="2" height="1"/><rect x="748" y="244" width="1" height="1"/><rect x="749" y="245" width="1" height="1"/><rect x="750" y="246" width="1" height="1"/><rect x="751" y="247" width="2" height="1"/><rect x="753" y="248" width="1" height="1"/><rect x="754" y="249" width="1" height="1"/><rect x="755" y="250" width="1" height="1"/><rect x="756" y="251" width="2" height="1"/><rect x="758" y="252" width="1" height="1"/><rect x="759" y="253" width="1" height="1"/><rect x="760" y="254" width="1" height="1"/><rect x="761" y="255" width="2" height="1"/><rect x="763" y="256" width="1" height="1"/><rect x="764" y="257" width="1" height="1"/><rect x="765" y="258" width="1" height="1"/><rect x="766" y="259" width="2" height="1"/><rect x="768" y="260" width="1" height="1"/><rect x="769" y="261" width="1" height="1"/><rect x="770" y="262" width="1" height="1"/><rect x="771" y="263" width="2" height="1"/><rect x="773" y="264" width="1" height="1"/><rect x="774" y="265" width="1" height="1"/><rect x="775" y="266" width="1" height="1"/><rect x="776" y="267" width="2" height="1"/><rect x="778" y="268" width="1" height="1"/><rect x="779" y="269" width="1" height="1"/><rect x="780" y="270" width="1" height="1"/><rect x="781" y="271" width="2" height="1"/><rect x="783" y="272" width="1" height="1"/><rect x="784" y="273" width="1" height="1"/><rect x="785" y="274" width="1" height="1"/><rect x="786" y="275" width="2" height="1"/><rect x="788" y="276" width="1" height="1"/><rect x="789" y="277" width="1" height="1"/><rect x="790" y="278" width="2" height="1"/><rect x="792" y="279" width="1" height="1"/><rect x="793" y="280" width="1" height="1"/><rect x="794" y="281" width="1" height="1"/><rect x="795" y="282" width="2" height="1"/><rect x="797" y="283" width="1" height="1"/><rect x="798" y="284" width="1" height="1"/><rect x="799" y="285" width="1" height="1"/><rect x="800" y="286" width="2" height="1"/><rect x="802" y="287" width="1" height="1"/><rect x="803" y="288" width="1" height="1"/><rect x="804" y="289" width="1" height="1"/><rect x="805" y="290" width="2" height="1"/><rect x="807" y="291" width="1" height="1"/><rect x="808" y="292" width="1" height="1"/><rect x="809" y="293" width="1" height="1"/><rect x="810" y="294" width="2" height="1"/><rect x="812" y="295" width="1" height="1"/><rect x="813" y="296" width="1" height="1"/><rect x="814" y="297" width="1" height="1"/><rect x="815" y="298" width="2" height="1"/><rect x="817" y="299" width="1" height="1"/><rect x="818" y="300" width="1" height="1"/><rect x="819" y="301" width="1" height="1"/><rect x="820" y="302" width="2" height="1"/><rect x="822" y="303" width="1" height="1"/><rect x="823" y="304" width="1" height="1"/><rect x="824" y="305" width="1" height="1"/><rect x="825" y="306" width="2" height="1"/><rect x="827" y="307" width="1" height="1"/><rect x="828" y="308" width="1" height="1"/><rect x="829" y="309" width="1" height="1"/><rect x="830" y="310" width="2" height="1"/><rect x="832" y="311" width="1" height="1"/><rect x="833" y="312" width="1" height="1"/><rect x="834" y="313" width="1" height="1"/><rect x="835" y="314" width="2" height="1"/><rect x="837" y="315" width="1" height="1"/><rect x="838" y="316" width="1" height="1"/><rect x="839" y="317" width="1" height="1"/><rect x="840" y="318" width="2" height="1"/><rect x="842" y="319" width="1" height="1"/><rect x="843" y="320" width="1" height="1"/><rect x="844" y="321" width="2" height="1"/><rect x="846" y="322" width="1" height="1"/><rect x="847" y="323" width="1" height="1"/><rect x="848" y="324" width="1" height="1"/><rect x="849" y="325" width="2" height="1"/><rect x="851" y="326" width="1" height="1"/><rect x="852" y="327" width="1" height="1"/><rect x="853" y="328" width="1" height="1"/><rect x="854" y="329" width="2" height="1"/><rect x="856" y="330" width="1" height="1"/><rect x="857" y="331" width="1" height="1"/><rect x="858" y="332" width="1" height="1"/><rect x="859" y="333" width="2" height="1"/><rect x="861" y="334" width="1" height="1"/><rect x="862" y="335" width="1" height="1"/><rect x="863" y="336" width="1" height="1"/><rect x="864" y="337" width="2" height="1"/><rect x="866" y="338" width="1" height="1"/><rect x="867" y="339" width="1" height="1"/><rect x="868" y="340" width="1" height="1"/><rect x="869" y="341" width="2" height="1"/><rect x="871" y="342" width="1" height="1"/><rect x="872" y="343" width="1" height="1"/><rect x="873" y="344" width="1" height="1"/><rect x="874" y="345" width="2" height="1"/><rect x="876" y="346" width="1" height="1"/><rect x="877" y="347" width="1" height="1"/><rect x="878" y="348" width="1" height="1"/><rect x="879" y="349" width="2" height="1"/><rect x="881" y="350" width="1" height="1"/><rect x="882" y="351" width="1" height="1"/><rect x="883" y="352" width="1" height="1"/><rect x="884" y="353" width="2" height="1"/><rect x="886" y="354" width="1" height="1"/><rect x="887" y="355" width="1" height="1"/><rect x="888" y="356" width="1" height="1"/><rect x="889" y="357" width="2" height="1"/><rect x="891" y="358" width="1" height="1"/><rect x="892" y="359" width="1" height="1"/><rect x="893" y="360" width="1" height="1"/><rect x="894" y="361" width="2" height="1"/><rect x="896" y="362" width="1" height="1"/><rect x="897" y="363" width="1" height="1"/><rect x="898" y="364" width="2" height="1"/><rect x="900" y="365" width="1" height="1"/><rect x="901" y="366" width="1" height="1"/><rect x="902" y="367" width="1" height="1"/><rect x="903" y="368" width="2" height="1"/><rect x="905" y="369" width="1" height="1"/><rect x="906" y="370" width="1" height="1"/><rect x="907" y="371" width="1" height="1"/><rect x="908" y="372" width="2" height="1"/><rect x="910" y="373" width="1" height="1"/><rect x="911" y="374" width="1" height="1"/><rect x="912" y="375" width="1" height="1"/><rect x="913" y="376" width="2" height="1"/><rect x="915" y="377" width="1" height="1"/><rect x="916" y="378" width="1" height="1"/><rect x="917" y="379" width="1" height="1"/><rect x="918" y="380" width="2" height="1"/><rect x="920" y="381" width="1" height="1"/><rect x="921" y="382" width="1" height="1"/><rect x="922" y="383" width="1" height="1"/><rect x="923" y="384" width="2" height="1"/><rect x="925" y="385" width="1" height="1"/><rect x="926" y="386" width="1" height="1"/><rect x="927" y="387" width="1" height="1"/><rect x="928" y="388" width="2" height="1"/><rect x="930" y="389" width="1" height="1"/><rect x="931" y="390" width="1" height="1"/><rect x="932" y="391" width="1" height="1"/><rect x="933" y="392" width="2" height="1"/><rect x="935" y="393" width="1" height="1"/><rect x="936" y="394" width="1" height="1"/><rect x="937" y="395" width="1" height="1"/><rect x="938" y="396" width="2" height="1"/><rect x="940" y="397" width="1" height="1"/><rect x="941" y="398" width="1" height="1"/><rect x="942" y="399" width="1" height="1"/><rect x="943" y="400" width="2" height="1"/><rect x="945" y="401" width="1" height="1"/><rect x="946" y="402" width="1" height="1"/><rect x="947" y="403" width="1" height="1"/><rect x="948" y="404" width="2" height="1"/><rect x="950" y="405" width="1" height="1"/><rect x="951" y="406" width="1" height="1"/><rect x="952" y="407" width="2" height="1"/><rect x="954" y="408" width="1" height="1"/><rect x="955" y="409" width="1" height="1"/><rect x="956" y="410" width="1" height="1"/><rect x="957" y="411" width="2" height="1"/><rect x="959" y="412" width="1" height="1"/><rect x="960" y="413" width="1" height="1"/><rect x="961" y="414" width="1" height="1"/><rect x="962" y="415" width="2" height="1"/><rect x="964" y="416" width="1" height="1"/><rect x="965" y="417" width="1" height="1"/><rect x="966" y="418" width="1" height="1"/><rect x="967" y="419" width="2" height="1"/><rect x="969" y="420" width="1" height="1"/><rect x="970" y="421" width="1" height="1"/><rect x="971" y="422" width="1" height="1"/><rect x="972" y="423" width="2" height="1"/><rect x="974" y="424" width="1" height="1"/><rect x="975" y="425" width="1" height="1"/></g>
<rect x="687" y="298" width="331" height="2" fill="#fa2d2d"/>
<rect x="693" y="341" width="314" height="2" fill="#96cc00"/>
<rect x="813" y="417" width="202" height="2" fill="#3792e2"/>
</g>
<rect x="5" y="32" width="1104" height="1" fill="#000"/>
<rect x="5" y="424" width="1104" height="1" fill="#000"/>
<rect x="5" y="32" width="1" height="393" fill="#000"/>
<rect x="1108" y="32" width="1" height="393" fill="#000"/>
<rect x="5" y="426" width="1104" height="1" fill="#000"/>
<rect x="5" y="500" width="1104" height="1" fill="#000"/>
<rect x="5" y="426" width="1" height="75" fill="#000"/>
<rect x="1108" y="426" width="1" height="75" fill="#000"/>
<rect x="5" y="502" width="1104" height="1" fill="#000"/>
<rect x="5" y="589" width="1104" height="1" fill="#000"/>
<rect x="5" y="502" width="1" height="88" fill="#000"/>
<rect x="1108" y="502" width="1" height="88" fill="#000"/>
<path d="M8.5 43.4 L12.5 39.4 L16.5 43.4 Z" fill="#000"/>
<text x="20.8" y="43.9" font-size="10.3" fill="#000" textLength="65.5" lengthAdjust="spacingAndGlyphs">USDCNH,Daily</text>
<text x="92.8" y="43.9" font-size="10.3" fill="#000" textLength="33" lengthAdjust="spacingAndGlyphs">6.76234</text>
<text x="128.8" y="43.9" font-size="10.3" fill="#000" textLength="33" lengthAdjust="spacingAndGlyphs">6.76845</text>
<text x="164.4" y="43.9" font-size="10.3" fill="#000" textLength="33" lengthAdjust="spacingAndGlyphs">6.75524</text>
<text x="200.8" y="43.9" font-size="10.3" fill="#000" textLength="33" lengthAdjust="spacingAndGlyphs">6.76539</text>
<defs><linearGradient id="gred" gradientUnits="userSpaceOnUse" x1="0" y1="52" x2="0" y2="116"><stop offset="0" stop-color="#f55757"/><stop offset="0.37" stop-color="#df3232"/><stop offset="1" stop-color="#ab0000"/></linearGradient>
<linearGradient id="gspin" x1="0" y1="0" x2="0" y2="1"><stop offset="0" stop-color="#f2f2f2"/><stop offset="0.35" stop-color="#ececec"/><stop offset="0.36" stop-color="#dcdcdc"/><stop offset="1" stop-color="#d4d4d4"/></linearGradient></defs>
<rect x="7" y="50" width="223" height="68" fill="#ffffff"/>
<path d="M9.5 52.5 H60.5 V76.5 H117.5 V115.5 H9.5 Z" fill="url(#gred)" stroke="#b00000" stroke-width="1"/>
<path d="M176.5 52.5 H227.5 V115.5 H120.5 V76.5 H176.5 Z" fill="url(#gred)" stroke="#b00000" stroke-width="1"/>
<rect x="13" y="75" width="45" height="1" fill="#a80000"/>
<rect x="13" y="76" width="45" height="1" fill="#f07070"/>
<rect x="180" y="75" width="45" height="1" fill="#a80000"/>
<rect x="180" y="76" width="45" height="1" fill="#f07070"/>
<rect x="61" y="50" width="115" height="26" fill="#ffffff"/>
<rect x="63.5" y="52.5" width="110" height="21" fill="#ffffff" stroke="#a9adb5" stroke-width="1"/>
<rect x="65" y="54" width="19" height="18" fill="url(#gspin)"/>
<rect x="154" y="54" width="19" height="18" fill="url(#gspin)"/>
<rect x="84" y="53" width="1" height="20" fill="#a9adb5"/>
<rect x="152" y="53" width="1" height="20" fill="#a9adb5"/>
<path d="M70.5 61 L76.5 61 L73.5 64.5 Z" fill="#5563c8"/>
<path d="M160 64.5 L166 64.5 L163 61 Z" fill="#5563c8"/>
<text x="148.8" y="67" font-size="12" fill="#000" textLength="30.5" lengthAdjust="spacingAndGlyphs" text-anchor="end">16.00</text>
<text x="20.8" y="68" font-size="12.3" fill="#fff" textLength="26" lengthAdjust="spacingAndGlyphs">SELL</text>
<text x="189.3" y="68" font-size="12.3" fill="#fff" textLength="23.2" lengthAdjust="spacingAndGlyphs">BUY</text>
<text x="28.5" y="107" font-size="12.5" fill="#fff" textLength="24.6" lengthAdjust="spacingAndGlyphs" font-weight="bold">6.76</text>
<text x="57.2" y="107" font-size="34.5" fill="#fff" textLength="33.5" lengthAdjust="spacingAndGlyphs" stroke="url(#gboxu)" stroke-width="0.55">53</text>
<text x="95.5" y="91" font-size="10.5" fill="#fff" textLength="7" lengthAdjust="spacingAndGlyphs" font-weight="bold">9</text>
<text x="138.6" y="107" font-size="12.5" fill="#fff" textLength="24.2" lengthAdjust="spacingAndGlyphs" font-weight="bold">6.76</text>
<text x="167.8" y="107" font-size="34.5" fill="#fff" textLength="34.8" lengthAdjust="spacingAndGlyphs" stroke="url(#gboxu)" stroke-width="0.55">78</text>
<text x="207.8" y="91" font-size="10.5" fill="#fff" textLength="6.2" lengthAdjust="spacingAndGlyphs" font-weight="bold">3</text>
<rect x="1109" y="58" width="2" height="1" fill="#000"/>
<text x="1113.8" y="61.8" font-size="9.8" fill="#000" textLength="33" lengthAdjust="spacingAndGlyphs" class="b1">6.97430</text>
<rect x="1109" y="91" width="2" height="1" fill="#000"/>
<text x="1113.8" y="94.8" font-size="9.8" fill="#000" textLength="33" lengthAdjust="spacingAndGlyphs" class="b1">6.94880</text>
<rect x="1109" y="124" width="2" height="1" fill="#000"/>
<text x="1113.8" y="127.8" font-size="9.8" fill="#000" textLength="33" lengthAdjust="spacingAndGlyphs" class="b1">6.92405</text>
<rect x="1109" y="157" width="2" height="1" fill="#000"/>
<text x="1113.8" y="160.8" font-size="9.8" fill="#000" textLength="33" lengthAdjust="spacingAndGlyphs" class="b1">6.89855</text>
<rect x="1109" y="190" width="2" height="1" fill="#000"/>
<text x="1113.8" y="193.8" font-size="9.8" fill="#000" textLength="33" lengthAdjust="spacingAndGlyphs" class="b1">6.87305</text>
<rect x="1109" y="223" width="2" height="1" fill="#000"/>
<text x="1113.8" y="226.8" font-size="9.8" fill="#000" textLength="33" lengthAdjust="spacingAndGlyphs" class="b1">6.84755</text>
<rect x="1109" y="256" width="2" height="1" fill="#000"/>
<text x="1113.8" y="259.8" font-size="9.8" fill="#000" textLength="33" lengthAdjust="spacingAndGlyphs" class="b1">6.82205</text>
<rect x="1109" y="289" width="2" height="1" fill="#000"/>
<text x="1113.8" y="292.8" font-size="9.8" fill="#000" textLength="33" lengthAdjust="spacingAndGlyphs" class="b1">6.79730</text>
<rect x="1109" y="322" width="2" height="1" fill="#000"/>
<text x="1113.8" y="325.8" font-size="9.8" fill="#000" textLength="33" lengthAdjust="spacingAndGlyphs" class="b1">6.77180</text>
<rect x="1109" y="355" width="2" height="1" fill="#000"/>
<text x="1113.8" y="358.8" font-size="9.8" fill="#000" textLength="33" lengthAdjust="spacingAndGlyphs" class="b1">6.74630</text>
<rect x="1109" y="388" width="2" height="1" fill="#000"/>
<text x="1113.8" y="391.8" font-size="9.8" fill="#000" textLength="33" lengthAdjust="spacingAndGlyphs" class="b1">6.72080</text>
<rect x="1109" y="421" width="2" height="1" fill="#000"/>
<text x="1113.8" y="424.8" font-size="9.8" fill="#000" textLength="33" lengthAdjust="spacingAndGlyphs" class="b1">6.69605</text>
<rect x="1110" y="325" width="41" height="11" fill="#000"/>
<text x="1113.8" y="334.2" font-size="9.8" fill="#fff" textLength="33" lengthAdjust="spacingAndGlyphs" class="bw">6.76539</text>
<g clip-path="url(#cmacd)">
<rect x="6" y="440" width="1" height="16" fill="#c0c0c0"/>
<rect x="14" y="440" width="1" height="16" fill="#c0c0c0"/>
<rect x="22" y="440" width="1" height="16" fill="#c0c0c0"/>
<rect x="30" y="440" width="1" height="16" fill="#c0c0c0"/>
<rect x="38" y="440" width="1" height="16" fill="#c0c0c0"/>
<rect x="46" y="440" width="1" height="16" fill="#c0c0c0"/>
<rect x="54" y="440" width="1" height="16" fill="#c0c0c0"/>
<rect x="62" y="440" width="1" height="16" fill="#c0c0c0"/>
<rect x="70" y="440" width="1" height="16" fill="#c0c0c0"/>
<rect x="78" y="437" width="1" height="19" fill="#c0c0c0"/>
<rect x="86" y="437" width="1" height="19" fill="#c0c0c0"/>
<rect x="94" y="437" width="1" height="19" fill="#c0c0c0"/>
<rect x="102" y="437" width="1" height="19" fill="#c0c0c0"/>
<rect x="110" y="437" width="1" height="19" fill="#c0c0c0"/>
<rect x="118" y="437" width="1" height="19" fill="#c0c0c0"/>
<rect x="126" y="436" width="1" height="20" fill="#c0c0c0"/>
<rect x="134" y="436" width="1" height="20" fill="#c0c0c0"/>
<rect x="142" y="436" width="1" height="20" fill="#c0c0c0"/>
<rect x="150" y="435" width="1" height="21" fill="#c0c0c0"/>
<rect x="158" y="434" width="1" height="22" fill="#c0c0c0"/>
<rect x="166" y="433" width="1" height="23" fill="#c0c0c0"/>
<rect x="174" y="434" width="1" height="22" fill="#c0c0c0"/>
<rect x="182" y="434" width="1" height="22" fill="#c0c0c0"/>
<rect x="190" y="432" width="1" height="24" fill="#c0c0c0"/>
<rect x="198" y="433" width="1" height="23" fill="#c0c0c0"/>
<rect x="206" y="436" width="1" height="20" fill="#c0c0c0"/>
<rect x="214" y="442" width="1" height="14" fill="#c0c0c0"/>
<rect x="222" y="448" width="1" height="8" fill="#c0c0c0"/>
<rect x="230" y="449" width="1" height="7" fill="#c0c0c0"/>
<rect x="238" y="451" width="1" height="5" fill="#c0c0c0"/>
<rect x="246" y="452" width="1" height="4" fill="#c0c0c0"/>
<rect x="254" y="452" width="1" height="4" fill="#c0c0c0"/>
<rect x="262" y="451" width="1" height="5" fill="#c0c0c0"/>
<rect x="270" y="450" width="1" height="6" fill="#c0c0c0"/>
<rect x="278" y="448" width="1" height="8" fill="#c0c0c0"/>
<rect x="286" y="447" width="1" height="9" fill="#c0c0c0"/>
<rect x="294" y="447" width="1" height="9" fill="#c0c0c0"/>
<rect x="302" y="450" width="1" height="6" fill="#c0c0c0"/>
<rect x="310" y="451" width="1" height="5" fill="#c0c0c0"/>
<rect x="318" y="453" width="1" height="3" fill="#c0c0c0"/>
<rect x="326" y="453" width="1" height="3" fill="#c0c0c0"/>
<rect x="334" y="453" width="1" height="3" fill="#c0c0c0"/>
<rect x="342" y="454" width="1" height="2" fill="#c0c0c0"/>
<rect x="350" y="454" width="1" height="2" fill="#c0c0c0"/>
<rect x="358" y="454" width="1" height="2" fill="#c0c0c0"/>
<rect x="366" y="453" width="1" height="3" fill="#c0c0c0"/>
<rect x="374" y="453" width="1" height="3" fill="#c0c0c0"/>
<rect x="382" y="451" width="1" height="5" fill="#c0c0c0"/>
<rect x="390" y="450" width="1" height="6" fill="#c0c0c0"/>
<rect x="398" y="451" width="1" height="5" fill="#c0c0c0"/>
<rect x="406" y="450" width="1" height="6" fill="#c0c0c0"/>
<rect x="414" y="450" width="1" height="6" fill="#c0c0c0"/>
<rect x="430" y="456" width="1" height="7" fill="#c0c0c0"/>
<rect x="438" y="456" width="1" height="12" fill="#c0c0c0"/>
<rect x="446" y="456" width="1" height="13" fill="#c0c0c0"/>
<rect x="454" y="456" width="1" height="15" fill="#c0c0c0"/>
<rect x="462" y="456" width="1" height="15" fill="#c0c0c0"/>
<rect x="470" y="456" width="1" height="12" fill="#c0c0c0"/>
<rect x="478" y="456" width="1" height="11" fill="#c0c0c0"/>
<rect x="486" y="456" width="1" height="12" fill="#c0c0c0"/>
<rect x="494" y="456" width="1" height="13" fill="#c0c0c0"/>
<rect x="502" y="456" width="1" height="12" fill="#c0c0c0"/>
<rect x="510" y="456" width="1" height="10" fill="#c0c0c0"/>
<rect x="518" y="456" width="1" height="9" fill="#c0c0c0"/>
<rect x="526" y="456" width="1" height="9" fill="#c0c0c0"/>
<rect x="534" y="456" width="1" height="8" fill="#c0c0c0"/>
<rect x="542" y="456" width="1" height="8" fill="#c0c0c0"/>
<rect x="550" y="456" width="1" height="6" fill="#c0c0c0"/>
<rect x="558" y="456" width="1" height="3" fill="#c0c0c0"/>
<rect x="566" y="456" width="1" height="3" fill="#c0c0c0"/>
<rect x="574" y="456" width="1" height="3" fill="#c0c0c0"/>
<rect x="582" y="456" width="1" height="4" fill="#c0c0c0"/>
<rect x="590" y="456" width="1" height="6" fill="#c0c0c0"/>
<rect x="598" y="456" width="1" height="6" fill="#c0c0c0"/>
<rect x="606" y="456" width="1" height="6" fill="#c0c0c0"/>
<rect x="614" y="456" width="1" height="9" fill="#c0c0c0"/>
<rect x="622" y="456" width="1" height="10" fill="#c0c0c0"/>
<rect x="630" y="456" width="1" height="10" fill="#c0c0c0"/>
<rect x="638" y="456" width="1" height="8" fill="#c0c0c0"/>
<rect x="646" y="456" width="1" height="10" fill="#c0c0c0"/>
<rect x="654" y="456" width="1" height="10" fill="#c0c0c0"/>
<rect x="662" y="456" width="1" height="13" fill="#c0c0c0"/>
<rect x="670" y="456" width="1" height="14" fill="#c0c0c0"/>
<rect x="678" y="456" width="1" height="17" fill="#c0c0c0"/>
<rect x="686" y="456" width="1" height="23" fill="#c0c0c0"/>
<rect x="694" y="456" width="1" height="30" fill="#c0c0c0"/>
<rect x="702" y="456" width="1" height="34" fill="#c0c0c0"/>
<rect x="710" y="456" width="1" height="37" fill="#c0c0c0"/>
<rect x="718" y="456" width="1" height="39" fill="#c0c0c0"/>
<rect x="726" y="456" width="1" height="40" fill="#c0c0c0"/>
<rect x="734" y="456" width="1" height="38" fill="#c0c0c0"/>
<rect x="742" y="456" width="1" height="36" fill="#c0c0c0"/>
<rect x="750" y="456" width="1" height="33" fill="#c0c0c0"/>
<rect x="758" y="456" width="1" height="30" fill="#c0c0c0"/>
<rect x="766" y="456" width="1" height="27" fill="#c0c0c0"/>
<rect x="774" y="456" width="1" height="25" fill="#c0c0c0"/>
<rect x="782" y="456" width="1" height="24" fill="#c0c0c0"/>
<rect x="790" y="456" width="1" height="26" fill="#c0c0c0"/>
<rect x="798" y="456" width="1" height="28" fill="#c0c0c0"/>
<rect x="806" y="456" width="1" height="28" fill="#c0c0c0"/>
<rect x="814" y="456" width="1" height="29" fill="#c0c0c0"/>
<rect x="822" y="456" width="1" height="32" fill="#c0c0c0"/>
<rect x="830" y="456" width="1" height="35" fill="#c0c0c0"/>
<rect x="838" y="456" width="1" height="33" fill="#c0c0c0"/>
<rect x="846" y="456" width="1" height="30" fill="#c0c0c0"/>
<rect x="854" y="456" width="1" height="27" fill="#c0c0c0"/>
<rect x="862" y="456" width="1" height="25" fill="#c0c0c0"/>
<rect x="870" y="456" width="1" height="22" fill="#c0c0c0"/>
<g fill="#ff0000"><rect x="175" y="432" width="2" height="1"/><rect x="180" y="432" width="3" height="1"/><rect x="186" y="432" width="3" height="1"/><rect x="192" y="432" width="3" height="1"/><rect x="198" y="432" width="3" height="1"/><rect x="204" y="432" width="3" height="1"/><rect x="210" y="432" width="1" height="1"/><rect x="156" y="433" width="3" height="1"/><rect x="162" y="433" width="3" height="1"/><rect x="168" y="433" width="3" height="1"/><rect x="174" y="433" width="1" height="1"/><rect x="211" y="433" width="2" height="1"/><rect x="132" y="434" width="3" height="1"/><rect x="138" y="434" width="3" height="1"/><rect x="144" y="434" width="3" height="1"/><rect x="150" y="434" width="3" height="1"/><rect x="216" y="434" width="3" height="1"/><rect x="102" y="435" width="3" height="1"/><rect x="108" y="435" width="3" height="1"/><rect x="114" y="435" width="3" height="1"/><rect x="120" y="435" width="3" height="1"/><rect x="126" y="435" width="3" height="1"/><rect x="222" y="435" width="2" height="1"/><rect x="78" y="436" width="3" height="1"/><rect x="84" y="436" width="3" height="1"/><rect x="90" y="436" width="3" height="1"/><rect x="96" y="436" width="3" height="1"/><rect x="224" y="436" width="1" height="1"/><rect x="66" y="437" width="3" height="1"/><rect x="72" y="437" width="3" height="1"/><rect x="228" y="437" width="3" height="1"/><rect x="55" y="438" width="2" height="1"/><rect x="60" y="438" width="3" height="1"/><rect x="234" y="438" width="3" height="1"/><rect x="48" y="439" width="3" height="1"/><rect x="54" y="439" width="1" height="1"/><rect x="240" y="439" width="1" height="1"/><rect x="42" y="440" width="3" height="1"/><rect x="241" y="440" width="2" height="1"/><rect x="36" y="441" width="3" height="1"/><rect x="246" y="441" width="2" height="1"/><rect x="24" y="442" width="3" height="1"/><rect x="30" y="442" width="3" height="1"/><rect x="248" y="442" width="1" height="1"/><rect x="12" y="443" width="3" height="1"/><rect x="18" y="443" width="3" height="1"/><rect x="252" y="443" width="2" height="1"/><rect x="6" y="444" width="3" height="1"/><rect x="254" y="444" width="1" height="1"/><rect x="258" y="445" width="3" height="1"/><rect x="264" y="446" width="1" height="1"/><rect x="265" y="447" width="2" height="1"/><rect x="270" y="447" width="3" height="1"/><rect x="276" y="448" width="3" height="1"/><rect x="282" y="448" width="2" height="1"/><rect x="284" y="449" width="1" height="1"/><rect x="288" y="449" width="3" height="1"/><rect x="294" y="449" width="3" height="1"/><rect x="300" y="449" width="3" height="1"/><rect x="306" y="449" width="3" height="1"/><rect x="312" y="449" width="3" height="1"/><rect x="318" y="449" width="3" height="1"/><rect x="324" y="449" width="3" height="1"/><rect x="330" y="449" width="3" height="1"/><rect x="336" y="449" width="3" height="1"/><rect x="342" y="449" width="3" height="1"/><rect x="348" y="449" width="1" height="1"/><rect x="349" y="450" width="2" height="1"/><rect x="354" y="451" width="3" height="1"/><rect x="360" y="451" width="3" height="1"/><rect x="366" y="451" width="3" height="1"/><rect x="392" y="451" width="1" height="1"/><rect x="396" y="451" width="3" height="1"/><rect x="402" y="451" width="3" height="1"/><rect x="408" y="451" width="3" height="1"/><rect x="414" y="451" width="3" height="1"/><rect x="420" y="451" width="3" height="1"/><rect x="372" y="452" width="3" height="1"/><rect x="378" y="452" width="3" height="1"/><rect x="384" y="452" width="3" height="1"/><rect x="390" y="452" width="2" height="1"/><rect x="426" y="452" width="1" height="1"/><rect x="427" y="453" width="2" height="1"/><rect x="432" y="453" width="1" height="1"/><rect x="433" y="454" width="2" height="1"/><rect x="438" y="454" width="2" height="1"/><rect x="440" y="455" width="1" height="1"/><rect x="444" y="456" width="3" height="1"/><rect x="450" y="458" width="3" height="1"/><rect x="456" y="459" width="3" height="1"/><rect x="462" y="461" width="1" height="1"/><rect x="463" y="462" width="2" height="1"/><rect x="578" y="462" width="1" height="1"/><rect x="582" y="462" width="3" height="1"/><rect x="588" y="462" width="3" height="1"/><rect x="594" y="462" width="3" height="1"/><rect x="600" y="462" width="3" height="1"/><rect x="606" y="462" width="3" height="1"/><rect x="612" y="462" width="3" height="1"/><rect x="618" y="462" width="3" height="1"/><rect x="624" y="462" width="3" height="1"/><rect x="630" y="462" width="3" height="1"/><rect x="468" y="463" width="1" height="1"/><rect x="572" y="463" width="1" height="1"/><rect x="576" y="463" width="2" height="1"/><rect x="636" y="463" width="3" height="1"/><rect x="469" y="464" width="2" height="1"/><rect x="474" y="464" width="3" height="1"/><rect x="564" y="464" width="3" height="1"/><rect x="570" y="464" width="2" height="1"/><rect x="642" y="464" width="3" height="1"/><rect x="648" y="464" width="3" height="1"/><rect x="558" y="465" width="3" height="1"/><rect x="480" y="466" width="3" height="1"/><rect x="546" y="466" width="3" height="1"/><rect x="552" y="466" width="3" height="1"/><rect x="654" y="466" width="3" height="1"/><rect x="660" y="466" width="3" height="1"/><rect x="666" y="466" width="3" height="1"/><rect x="486" y="467" width="1" height="1"/><rect x="535" y="467" width="2" height="1"/><rect x="540" y="467" width="3" height="1"/><rect x="672" y="467" width="3" height="1"/><rect x="678" y="467" width="1" height="1"/><rect x="487" y="468" width="2" height="1"/><rect x="529" y="468" width="2" height="1"/><rect x="534" y="468" width="1" height="1"/><rect x="679" y="468" width="2" height="1"/><rect x="492" y="469" width="3" height="1"/><rect x="498" y="469" width="3" height="1"/><rect x="504" y="469" width="3" height="1"/><rect x="510" y="469" width="3" height="1"/><rect x="516" y="469" width="3" height="1"/><rect x="522" y="469" width="3" height="1"/><rect x="528" y="469" width="1" height="1"/><rect x="684" y="469" width="3" height="1"/><rect x="690" y="470" width="1" height="1"/><rect x="691" y="471" width="2" height="1"/><rect x="696" y="472" width="2" height="1"/><rect x="698" y="473" width="1" height="1"/><rect x="702" y="474" width="1" height="1"/><rect x="703" y="475" width="2" height="1"/><rect x="708" y="477" width="1" height="1"/><rect x="709" y="478" width="2" height="1"/><rect x="714" y="479" width="2" height="1"/><rect x="716" y="480" width="1" height="1"/><rect x="720" y="481" width="2" height="1"/><rect x="722" y="482" width="1" height="1"/><rect x="726" y="483" width="1" height="1"/><rect x="727" y="484" width="2" height="1"/><rect x="804" y="484" width="3" height="1"/><rect x="810" y="484" width="3" height="1"/><rect x="816" y="484" width="3" height="1"/><rect x="822" y="484" width="3" height="1"/><rect x="828" y="484" width="3" height="1"/><rect x="834" y="484" width="1" height="1"/><rect x="800" y="485" width="1" height="1"/><rect x="835" y="485" width="2" height="1"/><rect x="840" y="485" width="2" height="1"/><rect x="866" y="485" width="1" height="1"/><rect x="732" y="486" width="3" height="1"/><rect x="793" y="486" width="2" height="1"/><rect x="798" y="486" width="2" height="1"/><rect x="842" y="486" width="1" height="1"/><rect x="846" y="486" width="3" height="1"/><rect x="852" y="486" width="3" height="1"/><rect x="858" y="486" width="3" height="1"/><rect x="864" y="486" width="2" height="1"/><rect x="738" y="487" width="1" height="1"/><rect x="786" y="487" width="3" height="1"/><rect x="792" y="487" width="1" height="1"/><rect x="739" y="488" width="2" height="1"/><rect x="780" y="488" width="3" height="1"/><rect x="744" y="489" width="2" height="1"/><rect x="775" y="489" width="2" height="1"/><rect x="746" y="490" width="1" height="1"/><rect x="750" y="490" width="2" height="1"/><rect x="774" y="490" width="1" height="1"/><rect x="752" y="491" width="1" height="1"/><rect x="756" y="491" width="3" height="1"/><rect x="762" y="491" width="3" height="1"/><rect x="768" y="491" width="3" height="1"/></g>
</g>
<text x="10.4" y="439" font-size="9.3" fill="#000" textLength="154" lengthAdjust="spacingAndGlyphs" class="b">MACD(12,26,9) -0.020162 -0.026168</text>
<text x="1111.5" y="437.3" font-size="10.2" fill="#000" textLength="38.8" lengthAdjust="spacingAndGlyphs" class="b1">0.023534</text>
<rect x="1109" y="455" width="1" height="1" fill="#000"/>
<text x="1111.5" y="459.3" font-size="10.2" fill="#000" textLength="17.7" lengthAdjust="spacingAndGlyphs" class="b1">0.00</text>
<text x="1111.5" y="497.3" font-size="10.2" fill="#000" textLength="41.5" lengthAdjust="spacingAndGlyphs" class="b1">-0.038466</text>
<g clip-path="url(#crsi)">
<g fill="#b0b0b0"><rect x="7" y="529" width="3" height="1"/><rect x="13" y="529" width="3" height="1"/><rect x="19" y="529" width="3" height="1"/><rect x="25" y="529" width="3" height="1"/><rect x="31" y="529" width="3" height="1"/><rect x="37" y="529" width="3" height="1"/><rect x="43" y="529" width="3" height="1"/><rect x="49" y="529" width="3" height="1"/><rect x="55" y="529" width="3" height="1"/><rect x="61" y="529" width="3" height="1"/><rect x="67" y="529" width="3" height="1"/><rect x="73" y="529" width="3" height="1"/><rect x="79" y="529" width="3" height="1"/><rect x="85" y="529" width="3" height="1"/><rect x="91" y="529" width="3" height="1"/><rect x="97" y="529" width="3" height="1"/><rect x="103" y="529" width="3" height="1"/><rect x="109" y="529" width="3" height="1"/><rect x="115" y="529" width="3" height="1"/><rect x="121" y="529" width="3" height="1"/><rect x="127" y="529" width="3" height="1"/><rect x="133" y="529" width="3" height="1"/><rect x="139" y="529" width="3" height="1"/><rect x="145" y="529" width="3" height="1"/><rect x="151" y="529" width="3" height="1"/><rect x="157" y="529" width="3" height="1"/><rect x="163" y="529" width="3" height="1"/><rect x="169" y="529" width="3" height="1"/><rect x="175" y="529" width="3" height="1"/><rect x="181" y="529" width="3" height="1"/><rect x="187" y="529" width="3" height="1"/><rect x="193" y="529" width="3" height="1"/><rect x="199" y="529" width="3" height="1"/><rect x="205" y="529" width="3" height="1"/><rect x="211" y="529" width="3" height="1"/><rect x="217" y="529" width="3" height="1"/><rect x="223" y="529" width="3" height="1"/><rect x="229" y="529" width="3" height="1"/><rect x="235" y="529" width="3" height="1"/><rect x="241" y="529" width="3" height="1"/><rect x="247" y="529" width="3" height="1"/><rect x="253" y="529" width="3" height="1"/><rect x="259" y="529" width="3" height="1"/><rect x="265" y="529" width="3" height="1"/><rect x="271" y="529" width="3" height="1"/><rect x="277" y="529" width="3" height="1"/><rect x="283" y="529" width="3" height="1"/><rect x="289" y="529" width="3" height="1"/><rect x="295" y="529" width="3" height="1"/><rect x="301" y="529" width="3" height="1"/><rect x="307" y="529" width="3" height="1"/><rect x="313" y="529" width="3" height="1"/><rect x="319" y="529" width="3" height="1"/><rect x="325" y="529" width="3" height="1"/><rect x="331" y="529" width="3" height="1"/><rect x="337" y="529" width="3" height="1"/><rect x="343" y="529" width="3" height="1"/><rect x="349" y="529" width="3" height="1"/><rect x="355" y="529" width="3" height="1"/><rect x="361" y="529" width="3" height="1"/><rect x="367" y="529" width="3" height="1"/><rect x="373" y="529" width="3" height="1"/><rect x="379" y="529" width="3" height="1"/><rect x="385" y="529" width="3" height="1"/><rect x="391" y="529" width="3" height="1"/><rect x="397" y="529" width="3" height="1"/><rect x="403" y="529" width="3" height="1"/><rect x="409" y="529" width="3" height="1"/><rect x="415" y="529" width="3" height="1"/><rect x="421" y="529" width="3" height="1"/><rect x="427" y="529" width="3" height="1"/><rect x="433" y="529" width="3" height="1"/><rect x="439" y="529" width="3" height="1"/><rect x="445" y="529" width="3" height="1"/><rect x="451" y="529" width="3" height="1"/><rect x="457" y="529" width="3" height="1"/><rect x="463" y="529" width="3" height="1"/><rect x="469" y="529" width="3" height="1"/><rect x="475" y="529" width="3" height="1"/><rect x="481" y="529" width="3" height="1"/><rect x="487" y="529" width="3" height="1"/><rect x="493" y="529" width="3" height="1"/><rect x="499" y="529" width="3" height="1"/><rect x="505" y="529" width="3" height="1"/><rect x="511" y="529" width="3" height="1"/><rect x="517" y="529" width="3" height="1"/><rect x="523" y="529" width="3" height="1"/><rect x="529" y="529" width="3" height="1"/><rect x="535" y="529" width="3" height="1"/><rect x="541" y="529" width="3" height="1"/><rect x="547" y="529" width="3" height="1"/><rect x="553" y="529" width="3" height="1"/><rect x="559" y="529" width="3" height="1"/><rect x="565" y="529" width="3" height="1"/><rect x="571" y="529" width="3" height="1"/><rect x="577" y="529" width="3" height="1"/><rect x="583" y="529" width="3" height="1"/><rect x="589" y="529" width="3" height="1"/><rect x="595" y="529" width="3" height="1"/><rect x="601" y="529" width="3" height="1"/><rect x="607" y="529" width="3" height="1"/><rect x="613" y="529" width="3" height="1"/><rect x="619" y="529" width="3" height="1"/><rect x="625" y="529" width="3" height="1"/><rect x="631" y="529" width="3" height="1"/><rect x="637" y="529" width="3" height="1"/><rect x="643" y="529" width="3" height="1"/><rect x="649" y="529" width="3" height="1"/><rect x="655" y="529" width="3" height="1"/><rect x="661" y="529" width="3" height="1"/><rect x="667" y="529" width="3" height="1"/><rect x="673" y="529" width="3" height="1"/><rect x="679" y="529" width="3" height="1"/><rect x="685" y="529" width="3" height="1"/><rect x="691" y="529" width="3" height="1"/><rect x="697" y="529" width="3" height="1"/><rect x="703" y="529" width="3" height="1"/><rect x="709" y="529" width="3" height="1"/><rect x="715" y="529" width="3" height="1"/><rect x="721" y="529" width="3" height="1"/><rect x="727" y="529" width="3" height="1"/><rect x="733" y="529" width="3" height="1"/><rect x="739" y="529" width="3" height="1"/><rect x="745" y="529" width="3" height="1"/><rect x="751" y="529" width="3" height="1"/><rect x="757" y="529" width="3" height="1"/><rect x="763" y="529" width="3" height="1"/><rect x="769" y="529" width="3" height="1"/><rect x="775" y="529" width="3" height="1"/><rect x="781" y="529" width="3" height="1"/><rect x="787" y="529" width="3" height="1"/><rect x="793" y="529" width="3" height="1"/><rect x="799" y="529" width="3" height="1"/><rect x="805" y="529" width="3" height="1"/><rect x="811" y="529" width="3" height="1"/><rect x="817" y="529" width="3" height="1"/><rect x="823" y="529" width="3" height="1"/><rect x="829" y="529" width="3" height="1"/><rect x="835" y="529" width="3" height="1"/><rect x="841" y="529" width="3" height="1"/><rect x="847" y="529" width="3" height="1"/><rect x="853" y="529" width="3" height="1"/><rect x="859" y="529" width="3" height="1"/><rect x="865" y="529" width="3" height="1"/><rect x="871" y="529" width="3" height="1"/><rect x="877" y="529" width="3" height="1"/><rect x="883" y="529" width="3" height="1"/><rect x="889" y="529" width="3" height="1"/><rect x="895" y="529" width="3" height="1"/><rect x="901" y="529" width="3" height="1"/><rect x="907" y="529" width="3" height="1"/><rect x="913" y="529" width="3" height="1"/><rect x="919" y="529" width="3" height="1"/><rect x="925" y="529" width="3" height="1"/><rect x="931" y="529" width="3" height="1"/><rect x="937" y="529" width="3" height="1"/><rect x="943" y="529" width="3" height="1"/><rect x="949" y="529" width="3" height="1"/><rect x="955" y="529" width="3" height="1"/><rect x="961" y="529" width="3" height="1"/><rect x="967" y="529" width="3" height="1"/><rect x="973" y="529" width="3" height="1"/><rect x="979" y="529" width="3" height="1"/><rect x="985" y="529" width="3" height="1"/><rect x="991" y="529" width="3" height="1"/><rect x="997" y="529" width="3" height="1"/><rect x="1003" y="529" width="3" height="1"/><rect x="1009" y="529" width="3" height="1"/><rect x="1015" y="529" width="3" height="1"/><rect x="1021" y="529" width="3" height="1"/><rect x="1027" y="529" width="3" height="1"/><rect x="1033" y="529" width="3" height="1"/><rect x="1039" y="529" width="3" height="1"/><rect x="1045" y="529" width="3" height="1"/><rect x="1051" y="529" width="3" height="1"/><rect x="1057" y="529" width="3" height="1"/><rect x="1063" y="529" width="3" height="1"/><rect x="1069" y="529" width="3" height="1"/><rect x="1075" y="529" width="3" height="1"/><rect x="1081" y="529" width="3" height="1"/><rect x="1087" y="529" width="3" height="1"/><rect x="1093" y="529" width="3" height="1"/><rect x="1099" y="529" width="3" height="1"/><rect x="1105" y="529" width="3" height="1"/></g>
<g fill="#b0b0b0"><rect x="7" y="563" width="3" height="1"/><rect x="13" y="563" width="3" height="1"/><rect x="19" y="563" width="3" height="1"/><rect x="25" y="563" width="3" height="1"/><rect x="31" y="563" width="3" height="1"/><rect x="37" y="563" width="3" height="1"/><rect x="43" y="563" width="3" height="1"/><rect x="49" y="563" width="3" height="1"/><rect x="55" y="563" width="3" height="1"/><rect x="61" y="563" width="3" height="1"/><rect x="67" y="563" width="3" height="1"/><rect x="73" y="563" width="3" height="1"/><rect x="79" y="563" width="3" height="1"/><rect x="85" y="563" width="3" height="1"/><rect x="91" y="563" width="3" height="1"/><rect x="97" y="563" width="3" height="1"/><rect x="103" y="563" width="3" height="1"/><rect x="109" y="563" width="3" height="1"/><rect x="115" y="563" width="3" height="1"/><rect x="121" y="563" width="3" height="1"/><rect x="127" y="563" width="3" height="1"/><rect x="133" y="563" width="3" height="1"/><rect x="139" y="563" width="3" height="1"/><rect x="145" y="563" width="3" height="1"/><rect x="151" y="563" width="3" height="1"/><rect x="157" y="563" width="3" height="1"/><rect x="163" y="563" width="3" height="1"/><rect x="169" y="563" width="3" height="1"/><rect x="175" y="563" width="3" height="1"/><rect x="181" y="563" width="3" height="1"/><rect x="187" y="563" width="3" height="1"/><rect x="193" y="563" width="3" height="1"/><rect x="199" y="563" width="3" height="1"/><rect x="205" y="563" width="3" height="1"/><rect x="211" y="563" width="3" height="1"/><rect x="217" y="563" width="3" height="1"/><rect x="223" y="563" width="3" height="1"/><rect x="229" y="563" width="3" height="1"/><rect x="235" y="563" width="3" height="1"/><rect x="241" y="563" width="3" height="1"/><rect x="247" y="563" width="3" height="1"/><rect x="253" y="563" width="3" height="1"/><rect x="259" y="563" width="3" height="1"/><rect x="265" y="563" width="3" height="1"/><rect x="271" y="563" width="3" height="1"/><rect x="277" y="563" width="3" height="1"/><rect x="283" y="563" width="3" height="1"/><rect x="289" y="563" width="3" height="1"/><rect x="295" y="563" width="3" height="1"/><rect x="301" y="563" width="3" height="1"/><rect x="307" y="563" width="3" height="1"/><rect x="313" y="563" width="3" height="1"/><rect x="319" y="563" width="3" height="1"/><rect x="325" y="563" width="3" height="1"/><rect x="331" y="563" width="3" height="1"/><rect x="337" y="563" width="3" height="1"/><rect x="343" y="563" width="3" height="1"/><rect x="349" y="563" width="3" height="1"/><rect x="355" y="563" width="3" height="1"/><rect x="361" y="563" width="3" height="1"/><rect x="367" y="563" width="3" height="1"/><rect x="373" y="563" width="3" height="1"/><rect x="379" y="563" width="3" height="1"/><rect x="385" y="563" width="3" height="1"/><rect x="391" y="563" width="3" height="1"/><rect x="397" y="563" width="3" height="1"/><rect x="403" y="563" width="3" height="1"/><rect x="409" y="563" width="3" height="1"/><rect x="415" y="563" width="3" height="1"/><rect x="421" y="563" width="3" height="1"/><rect x="427" y="563" width="3" height="1"/><rect x="433" y="563" width="3" height="1"/><rect x="439" y="563" width="3" height="1"/><rect x="445" y="563" width="3" height="1"/><rect x="451" y="563" width="3" height="1"/><rect x="457" y="563" width="3" height="1"/><rect x="463" y="563" width="3" height="1"/><rect x="469" y="563" width="3" height="1"/><rect x="475" y="563" width="3" height="1"/><rect x="481" y="563" width="3" height="1"/><rect x="487" y="563" width="3" height="1"/><rect x="493" y="563" width="3" height="1"/><rect x="499" y="563" width="3" height="1"/><rect x="505" y="563" width="3" height="1"/><rect x="511" y="563" width="3" height="1"/><rect x="517" y="563" width="3" height="1"/><rect x="523" y="563" width="3" height="1"/><rect x="529" y="563" width="3" height="1"/><rect x="535" y="563" width="3" height="1"/><rect x="541" y="563" width="3" height="1"/><rect x="547" y="563" width="3" height="1"/><rect x="553" y="563" width="3" height="1"/><rect x="559" y="563" width="3" height="1"/><rect x="565" y="563" width="3" height="1"/><rect x="571" y="563" width="3" height="1"/><rect x="577" y="563" width="3" height="1"/><rect x="583" y="563" width="3" height="1"/><rect x="589" y="563" width="3" height="1"/><rect x="595" y="563" width="3" height="1"/><rect x="601" y="563" width="3" height="1"/><rect x="607" y="563" width="3" height="1"/><rect x="613" y="563" width="3" height="1"/><rect x="619" y="563" width="3" height="1"/><rect x="625" y="563" width="3" height="1"/><rect x="631" y="563" width="3" height="1"/><rect x="637" y="563" width="3" height="1"/><rect x="643" y="563" width="3" height="1"/><rect x="649" y="563" width="3" height="1"/><rect x="655" y="563" width="3" height="1"/><rect x="661" y="563" width="3" height="1"/><rect x="667" y="563" width="3" height="1"/><rect x="673" y="563" width="3" height="1"/><rect x="679" y="563" width="3" height="1"/><rect x="685" y="563" width="3" height="1"/><rect x="691" y="563" width="3" height="1"/><rect x="697" y="563" width="3" height="1"/><rect x="703" y="563" width="3" height="1"/><rect x="709" y="563" width="3" height="1"/><rect x="715" y="563" width="3" height="1"/><rect x="721" y="563" width="3" height="1"/><rect x="727" y="563" width="3" height="1"/><rect x="733" y="563" width="3" height="1"/><rect x="739" y="563" width="3" height="1"/><rect x="745" y="563" width="3" height="1"/><rect x="751" y="563" width="3" height="1"/><rect x="757" y="563" width="3" height="1"/><rect x="763" y="563" width="3" height="1"/><rect x="769" y="563" width="3" height="1"/><rect x="775" y="563" width="3" height="1"/><rect x="781" y="563" width="3" height="1"/><rect x="787" y="563" width="3" height="1"/><rect x="793" y="563" width="3" height="1"/><rect x="799" y="563" width="3" height="1"/><rect x="805" y="563" width="3" height="1"/><rect x="811" y="563" width="3" height="1"/><rect x="817" y="563" width="3" height="1"/><rect x="823" y="563" width="3" height="1"/><rect x="829" y="563" width="3" height="1"/><rect x="835" y="563" width="3" height="1"/><rect x="841" y="563" width="3" height="1"/><rect x="847" y="563" width="3" height="1"/><rect x="853" y="563" width="3" height="1"/><rect x="859" y="563" width="3" height="1"/><rect x="865" y="563" width="3" height="1"/><rect x="871" y="563" width="3" height="1"/><rect x="877" y="563" width="3" height="1"/><rect x="883" y="563" width="3" height="1"/><rect x="889" y="563" width="3" height="1"/><rect x="895" y="563" width="3" height="1"/><rect x="901" y="563" width="3" height="1"/><rect x="907" y="563" width="3" height="1"/><rect x="913" y="563" width="3" height="1"/><rect x="919" y="563" width="3" height="1"/><rect x="925" y="563" width="3" height="1"/><rect x="931" y="563" width="3" height="1"/><rect x="937" y="563" width="3" height="1"/><rect x="943" y="563" width="3" height="1"/><rect x="949" y="563" width="3" height="1"/><rect x="955" y="563" width="3" height="1"/><rect x="961" y="563" width="3" height="1"/><rect x="967" y="563" width="3" height="1"/><rect x="973" y="563" width="3" height="1"/><rect x="979" y="563" width="3" height="1"/><rect x="985" y="563" width="3" height="1"/><rect x="991" y="563" width="3" height="1"/><rect x="997" y="563" width="3" height="1"/><rect x="1003" y="563" width="3" height="1"/><rect x="1009" y="563" width="3" height="1"/><rect x="1015" y="563" width="3" height="1"/><rect x="1021" y="563" width="3" height="1"/><rect x="1027" y="563" width="3" height="1"/><rect x="1033" y="563" width="3" height="1"/><rect x="1039" y="563" width="3" height="1"/><rect x="1045" y="563" width="3" height="1"/><rect x="1051" y="563" width="3" height="1"/><rect x="1057" y="563" width="3" height="1"/><rect x="1063" y="563" width="3" height="1"/><rect x="1069" y="563" width="3" height="1"/><rect x="1075" y="563" width="3" height="1"/><rect x="1081" y="563" width="3" height="1"/><rect x="1087" y="563" width="3" height="1"/><rect x="1093" y="563" width="3" height="1"/><rect x="1099" y="563" width="3" height="1"/><rect x="1105" y="563" width="3" height="1"/></g>
<g fill="#1e90ff"><rect x="38" y="530" width="2" height="1"/><rect x="193" y="530" width="5" height="1"/><rect x="36" y="531" width="2" height="1"/><rect x="40" y="531" width="2" height="1"/><rect x="187" y="531" width="6" height="1"/><rect x="198" y="531" width="1" height="1"/><rect x="35" y="532" width="1" height="1"/><rect x="42" y="532" width="3" height="1"/><rect x="50" y="532" width="5" height="1"/><rect x="183" y="532" width="4" height="1"/><rect x="198" y="532" width="1" height="1"/><rect x="34" y="533" width="1" height="1"/><rect x="45" y="533" width="5" height="1"/><rect x="55" y="533" width="1" height="1"/><rect x="110" y="533" width="1" height="1"/><rect x="179" y="533" width="4" height="1"/><rect x="199" y="533" width="1" height="1"/><rect x="21" y="534" width="4" height="1"/><rect x="32" y="534" width="2" height="1"/><rect x="55" y="534" width="1" height="1"/><rect x="108" y="534" width="2" height="1"/><rect x="111" y="534" width="2" height="1"/><rect x="148" y="534" width="14" height="1"/><rect x="175" y="534" width="4" height="1"/><rect x="199" y="534" width="1" height="1"/><rect x="15" y="535" width="6" height="1"/><rect x="25" y="535" width="4" height="1"/><rect x="31" y="535" width="1" height="1"/><rect x="56" y="535" width="1" height="1"/><rect x="107" y="535" width="1" height="1"/><rect x="113" y="535" width="2" height="1"/><rect x="131" y="535" width="17" height="1"/><rect x="162" y="535" width="13" height="1"/><rect x="200" y="535" width="1" height="1"/><rect x="9" y="536" width="6" height="1"/><rect x="29" y="536" width="2" height="1"/><rect x="57" y="536" width="1" height="1"/><rect x="106" y="536" width="1" height="1"/><rect x="115" y="536" width="2" height="1"/><rect x="124" y="536" width="7" height="1"/><rect x="200" y="536" width="1" height="1"/><rect x="6" y="537" width="3" height="1"/><rect x="58" y="537" width="1" height="1"/><rect x="104" y="537" width="2" height="1"/><rect x="117" y="537" width="2" height="1"/><rect x="121" y="537" width="3" height="1"/><rect x="201" y="537" width="1" height="1"/><rect x="277" y="537" width="3" height="1"/><rect x="58" y="538" width="1" height="1"/><rect x="70" y="538" width="15" height="1"/><rect x="101" y="538" width="3" height="1"/><rect x="119" y="538" width="2" height="1"/><rect x="201" y="538" width="1" height="1"/><rect x="275" y="538" width="2" height="1"/><rect x="280" y="538" width="2" height="1"/><rect x="59" y="539" width="1" height="1"/><rect x="68" y="539" width="2" height="1"/><rect x="85" y="539" width="6" height="1"/><rect x="97" y="539" width="4" height="1"/><rect x="202" y="539" width="1" height="1"/><rect x="273" y="539" width="2" height="1"/><rect x="282" y="539" width="2" height="1"/><rect x="389" y="539" width="2" height="1"/><rect x="60" y="540" width="1" height="1"/><rect x="66" y="540" width="2" height="1"/><rect x="91" y="540" width="6" height="1"/><rect x="203" y="540" width="1" height="1"/><rect x="263" y="540" width="10" height="1"/><rect x="284" y="540" width="2" height="1"/><rect x="385" y="540" width="4" height="1"/><rect x="391" y="540" width="1" height="1"/><rect x="61" y="541" width="1" height="1"/><rect x="65" y="541" width="1" height="1"/><rect x="203" y="541" width="1" height="1"/><rect x="261" y="541" width="2" height="1"/><rect x="286" y="541" width="3" height="1"/><rect x="383" y="541" width="2" height="1"/><rect x="392" y="541" width="1" height="1"/><rect x="407" y="541" width="2" height="1"/><rect x="61" y="542" width="1" height="1"/><rect x="63" y="542" width="2" height="1"/><rect x="204" y="542" width="1" height="1"/><rect x="259" y="542" width="2" height="1"/><rect x="289" y="542" width="4" height="1"/><rect x="381" y="542" width="2" height="1"/><rect x="393" y="542" width="1" height="1"/><rect x="405" y="542" width="2" height="1"/><rect x="409" y="542" width="4" height="1"/><rect x="62" y="543" width="1" height="1"/><rect x="204" y="543" width="1" height="1"/><rect x="258" y="543" width="1" height="1"/><rect x="293" y="543" width="4" height="1"/><rect x="333" y="543" width="3" height="1"/><rect x="362" y="543" width="5" height="1"/><rect x="379" y="543" width="2" height="1"/><rect x="394" y="543" width="2" height="1"/><rect x="403" y="543" width="2" height="1"/><rect x="413" y="543" width="2" height="1"/><rect x="554" y="543" width="5" height="1"/><rect x="205" y="544" width="1" height="1"/><rect x="256" y="544" width="2" height="1"/><rect x="297" y="544" width="2" height="1"/><rect x="331" y="544" width="2" height="1"/><rect x="336" y="544" width="2" height="1"/><rect x="357" y="544" width="5" height="1"/><rect x="367" y="544" width="3" height="1"/><rect x="377" y="544" width="2" height="1"/><rect x="396" y="544" width="1" height="1"/><rect x="401" y="544" width="2" height="1"/><rect x="415" y="544" width="1" height="1"/><rect x="549" y="544" width="5" height="1"/><rect x="559" y="544" width="2" height="1"/><rect x="205" y="545" width="1" height="1"/><rect x="253" y="545" width="3" height="1"/><rect x="299" y="545" width="3" height="1"/><rect x="328" y="545" width="3" height="1"/><rect x="338" y="545" width="2" height="1"/><rect x="354" y="545" width="3" height="1"/><rect x="370" y="545" width="3" height="1"/><rect x="375" y="545" width="2" height="1"/><rect x="397" y="545" width="1" height="1"/><rect x="399" y="545" width="2" height="1"/><rect x="415" y="545" width="1" height="1"/><rect x="547" y="545" width="2" height="1"/><rect x="561" y="545" width="2" height="1"/><rect x="206" y="546" width="1" height="1"/><rect x="249" y="546" width="4" height="1"/><rect x="302" y="546" width="2" height="1"/><rect x="326" y="546" width="2" height="1"/><rect x="340" y="546" width="2" height="1"/><rect x="352" y="546" width="2" height="1"/><rect x="373" y="546" width="2" height="1"/><rect x="398" y="546" width="1" height="1"/><rect x="416" y="546" width="1" height="1"/><rect x="471" y="546" width="2" height="1"/><rect x="545" y="546" width="2" height="1"/><rect x="563" y="546" width="2" height="1"/><rect x="206" y="547" width="1" height="1"/><rect x="231" y="547" width="3" height="1"/><rect x="242" y="547" width="7" height="1"/><rect x="304" y="547" width="3" height="1"/><rect x="323" y="547" width="3" height="1"/><rect x="342" y="547" width="10" height="1"/><rect x="416" y="547" width="1" height="1"/><rect x="470" y="547" width="1" height="1"/><rect x="473" y="547" width="4" height="1"/><rect x="501" y="547" width="8" height="1"/><rect x="543" y="547" width="2" height="1"/><rect x="565" y="547" width="4" height="1"/><rect x="207" y="548" width="1" height="1"/><rect x="230" y="548" width="1" height="1"/><rect x="234" y="548" width="8" height="1"/><rect x="307" y="548" width="2" height="1"/><rect x="321" y="548" width="2" height="1"/><rect x="417" y="548" width="1" height="1"/><rect x="468" y="548" width="2" height="1"/><rect x="477" y="548" width="2" height="1"/><rect x="499" y="548" width="2" height="1"/><rect x="509" y="548" width="21" height="1"/><rect x="537" y="548" width="6" height="1"/><rect x="569" y="548" width="5" height="1"/><rect x="855" y="548" width="2" height="1"/><rect x="208" y="549" width="1" height="1"/><rect x="229" y="549" width="1" height="1"/><rect x="309" y="549" width="12" height="1"/><rect x="417" y="549" width="1" height="1"/><rect x="467" y="549" width="1" height="1"/><rect x="479" y="549" width="2" height="1"/><rect x="497" y="549" width="2" height="1"/><rect x="530" y="549" width="7" height="1"/><rect x="574" y="549" width="4" height="1"/><rect x="853" y="549" width="2" height="1"/><rect x="857" y="549" width="2" height="1"/><rect x="209" y="550" width="1" height="1"/><rect x="228" y="550" width="1" height="1"/><rect x="418" y="550" width="1" height="1"/><rect x="466" y="550" width="1" height="1"/><rect x="481" y="550" width="2" height="1"/><rect x="495" y="550" width="2" height="1"/><rect x="578" y="550" width="4" height="1"/><rect x="852" y="550" width="1" height="1"/><rect x="859" y="550" width="2" height="1"/><rect x="866" y="550" width="5" height="1"/><rect x="210" y="551" width="2" height="1"/><rect x="226" y="551" width="2" height="1"/><rect x="418" y="551" width="1" height="1"/><rect x="464" y="551" width="2" height="1"/><rect x="483" y="551" width="2" height="1"/><rect x="492" y="551" width="3" height="1"/><rect x="582" y="551" width="4" height="1"/><rect x="634" y="551" width="6" height="1"/><rect x="765" y="551" width="2" height="1"/><rect x="850" y="551" width="2" height="1"/><rect x="861" y="551" width="5" height="1"/><rect x="212" y="552" width="1" height="1"/><rect x="225" y="552" width="1" height="1"/><rect x="419" y="552" width="1" height="1"/><rect x="447" y="552" width="3" height="1"/><rect x="463" y="552" width="1" height="1"/><rect x="485" y="552" width="2" height="1"/><rect x="489" y="552" width="3" height="1"/><rect x="586" y="552" width="22" height="1"/><rect x="629" y="552" width="5" height="1"/><rect x="640" y="552" width="2" height="1"/><rect x="762" y="552" width="3" height="1"/><rect x="767" y="552" width="2" height="1"/><rect x="849" y="552" width="1" height="1"/><rect x="213" y="553" width="1" height="1"/><rect x="224" y="553" width="1" height="1"/><rect x="419" y="553" width="1" height="1"/><rect x="446" y="553" width="1" height="1"/><rect x="450" y="553" width="13" height="1"/><rect x="487" y="553" width="2" height="1"/><rect x="608" y="553" width="2" height="1"/><rect x="627" y="553" width="2" height="1"/><rect x="642" y="553" width="3" height="1"/><rect x="760" y="553" width="2" height="1"/><rect x="769" y="553" width="2" height="1"/><rect x="847" y="553" width="2" height="1"/><rect x="214" y="554" width="2" height="1"/><rect x="223" y="554" width="1" height="1"/><rect x="420" y="554" width="1" height="1"/><rect x="445" y="554" width="1" height="1"/><rect x="610" y="554" width="3" height="1"/><rect x="625" y="554" width="2" height="1"/><rect x="645" y="554" width="5" height="1"/><rect x="749" y="554" width="11" height="1"/><rect x="771" y="554" width="2" height="1"/><rect x="778" y="554" width="5" height="1"/><rect x="844" y="554" width="3" height="1"/><rect x="216" y="555" width="4" height="1"/><rect x="222" y="555" width="1" height="1"/><rect x="420" y="555" width="1" height="1"/><rect x="444" y="555" width="1" height="1"/><rect x="613" y="555" width="5" height="1"/><rect x="623" y="555" width="2" height="1"/><rect x="650" y="555" width="5" height="1"/><rect x="746" y="555" width="3" height="1"/><rect x="773" y="555" width="5" height="1"/><rect x="783" y="555" width="1" height="1"/><rect x="840" y="555" width="4" height="1"/><rect x="220" y="556" width="2" height="1"/><rect x="421" y="556" width="1" height="1"/><rect x="442" y="556" width="2" height="1"/><rect x="618" y="556" width="5" height="1"/><rect x="655" y="556" width="2" height="1"/><rect x="670" y="556" width="1" height="1"/><rect x="744" y="556" width="2" height="1"/><rect x="784" y="556" width="1" height="1"/><rect x="838" y="556" width="2" height="1"/><rect x="421" y="557" width="1" height="1"/><rect x="441" y="557" width="1" height="1"/><rect x="657" y="557" width="2" height="1"/><rect x="668" y="557" width="2" height="1"/><rect x="671" y="557" width="1" height="1"/><rect x="738" y="557" width="6" height="1"/><rect x="785" y="557" width="1" height="1"/><rect x="837" y="557" width="1" height="1"/><rect x="422" y="558" width="1" height="1"/><rect x="440" y="558" width="1" height="1"/><rect x="659" y="558" width="2" height="1"/><rect x="666" y="558" width="2" height="1"/><rect x="672" y="558" width="1" height="1"/><rect x="734" y="558" width="4" height="1"/><rect x="786" y="558" width="1" height="1"/><rect x="837" y="558" width="1" height="1"/><rect x="423" y="559" width="2" height="1"/><rect x="439" y="559" width="1" height="1"/><rect x="661" y="559" width="2" height="1"/><rect x="664" y="559" width="2" height="1"/><rect x="673" y="559" width="1" height="1"/><rect x="733" y="559" width="1" height="1"/><rect x="787" y="559" width="1" height="1"/><rect x="836" y="559" width="1" height="1"/><rect x="425" y="560" width="1" height="1"/><rect x="437" y="560" width="2" height="1"/><rect x="663" y="560" width="1" height="1"/><rect x="674" y="560" width="2" height="1"/><rect x="732" y="560" width="1" height="1"/><rect x="788" y="560" width="1" height="1"/><rect x="836" y="560" width="1" height="1"/><rect x="426" y="561" width="2" height="1"/><rect x="434" y="561" width="3" height="1"/><rect x="676" y="561" width="1" height="1"/><rect x="732" y="561" width="1" height="1"/><rect x="789" y="561" width="1" height="1"/><rect x="835" y="561" width="1" height="1"/><rect x="428" y="562" width="2" height="1"/><rect x="432" y="562" width="2" height="1"/><rect x="677" y="562" width="1" height="1"/><rect x="731" y="562" width="1" height="1"/><rect x="790" y="562" width="2" height="1"/><rect x="804" y="562" width="7" height="1"/><rect x="835" y="562" width="1" height="1"/><rect x="430" y="563" width="2" height="1"/><rect x="678" y="563" width="1" height="1"/><rect x="730" y="563" width="1" height="1"/><rect x="792" y="563" width="4" height="1"/><rect x="800" y="563" width="4" height="1"/><rect x="811" y="563" width="6" height="1"/><rect x="834" y="563" width="1" height="1"/><rect x="679" y="564" width="1" height="1"/><rect x="729" y="564" width="1" height="1"/><rect x="796" y="564" width="4" height="1"/><rect x="817" y="564" width="2" height="1"/><rect x="833" y="564" width="1" height="1"/><rect x="680" y="565" width="2" height="1"/><rect x="728" y="565" width="1" height="1"/><rect x="819" y="565" width="2" height="1"/><rect x="833" y="565" width="1" height="1"/><rect x="682" y="566" width="2" height="1"/><rect x="728" y="566" width="1" height="1"/><rect x="821" y="566" width="2" height="1"/><rect x="832" y="566" width="1" height="1"/><rect x="684" y="567" width="2" height="1"/><rect x="727" y="567" width="1" height="1"/><rect x="823" y="567" width="2" height="1"/><rect x="832" y="567" width="1" height="1"/><rect x="686" y="568" width="2" height="1"/><rect x="716" y="568" width="11" height="1"/><rect x="825" y="568" width="2" height="1"/><rect x="831" y="568" width="1" height="1"/><rect x="688" y="569" width="2" height="1"/><rect x="712" y="569" width="4" height="1"/><rect x="827" y="569" width="2" height="1"/><rect x="831" y="569" width="1" height="1"/><rect x="690" y="570" width="2" height="1"/><rect x="701" y="570" width="11" height="1"/><rect x="829" y="570" width="2" height="1"/><rect x="692" y="571" width="2" height="1"/><rect x="697" y="571" width="4" height="1"/><rect x="694" y="572" width="3" height="1"/></g>
</g>
<text x="10.4" y="515" font-size="9.3" fill="#000" textLength="67.5" lengthAdjust="spacingAndGlyphs" class="b">RSI(14) 44.9538</text>
<text x="1111.5" y="513.3" font-size="10.2" fill="#000" textLength="15.2" lengthAdjust="spacingAndGlyphs" class="b1">100</text>
<text x="1111.5" y="533.0" font-size="10.2" fill="#000" textLength="10.1" lengthAdjust="spacingAndGlyphs" class="b1">70</text>
<text x="1111.5" y="567.2" font-size="10.2" fill="#000" textLength="10.1" lengthAdjust="spacingAndGlyphs" class="b1">30</text>
<text x="1111.5" y="586.3" font-size="10.2" fill="#000" textLength="5.1" lengthAdjust="spacingAndGlyphs" class="b1">0</text>
<rect x="6" y="590" width="1" height="3" fill="#000"/>
<text x="5.2" y="601.7" font-size="10.2" fill="#000" textLength="45.5" lengthAdjust="spacingAndGlyphs" class="b1">3 Oct 2018</text>
<rect x="70" y="590" width="1" height="3" fill="#000"/>
<text x="69.2" y="601.7" font-size="10.2" fill="#000" textLength="50.7" lengthAdjust="spacingAndGlyphs" class="b1">12 Oct 2018</text>
<rect x="134" y="590" width="1" height="3" fill="#000"/>
<text x="133.2" y="601.7" font-size="10.2" fill="#000" textLength="50.7" lengthAdjust="spacingAndGlyphs" class="b1">22 Oct 2018</text>
<rect x="198" y="590" width="1" height="3" fill="#000"/>
<text x="197.2" y="601.7" font-size="10.2" fill="#000" textLength="50.7" lengthAdjust="spacingAndGlyphs" class="b1">31 Oct 2018</text>
<rect x="262" y="590" width="1" height="3" fill="#000"/>
<text x="261.2" y="601.7" font-size="10.2" fill="#000" textLength="47.6" lengthAdjust="spacingAndGlyphs" class="b1">9 Nov 2018</text>
<rect x="326" y="590" width="1" height="3" fill="#000"/>
<text x="325.2" y="601.7" font-size="10.2" fill="#000" textLength="52.7" lengthAdjust="spacingAndGlyphs" class="b1">19 Nov 2018</text>
<rect x="390" y="590" width="1" height="3" fill="#000"/>
<text x="389.2" y="601.7" font-size="10.2" fill="#000" textLength="52.7" lengthAdjust="spacingAndGlyphs" class="b1">28 Nov 2018</text>
<rect x="454" y="590" width="1" height="3" fill="#000"/>
<text x="453.2" y="601.7" font-size="10.2" fill="#000" textLength="47.6" lengthAdjust="spacingAndGlyphs" class="b1">7 Dec 2018</text>
<rect x="518" y="590" width="1" height="3" fill="#000"/>
<text x="517.2" y="601.7" font-size="10.2" fill="#000" textLength="52.7" lengthAdjust="spacingAndGlyphs" class="b1">17 Dec 2018</text>
<rect x="582" y="590" width="1" height="3" fill="#000"/>
<text x="581.2" y="601.7" font-size="10.2" fill="#000" textLength="52.7" lengthAdjust="spacingAndGlyphs" class="b1">26 Dec 2018</text>
<rect x="646" y="590" width="1" height="3" fill="#000"/>
<text x="645.2" y="601.7" font-size="10.2" fill="#000" textLength="46.0" lengthAdjust="spacingAndGlyphs" class="b1">4 Jan 2019</text>
<rect x="710" y="590" width="1" height="3" fill="#000"/>
<text x="709.2" y="601.7" font-size="10.2" fill="#000" textLength="51.2" lengthAdjust="spacingAndGlyphs" class="b1">14 Jan 2019</text>
<rect x="774" y="590" width="1" height="3" fill="#000"/>
<text x="773.2" y="601.7" font-size="10.2" fill="#000" textLength="51.2" lengthAdjust="spacingAndGlyphs" class="b1">23 Jan 2019</text>
<rect x="838" y="590" width="1" height="3" fill="#000"/>
<text x="837.2" y="601.7" font-size="10.2" fill="#000" textLength="47.0" lengthAdjust="spacingAndGlyphs" class="b1">1 Feb 2019</text>
<rect x="0" y="609" width="1156" height="29" fill="#f0f0f0"/>
<rect x="3" y="609" width="1151" height="1" fill="#ffffff"/>
<rect x="3" y="610" width="1151" height="1" fill="#e4e4e4"/>
<rect x="1" y="612" width="1155" height="1" fill="#000"/>
<rect x="0" y="631" width="1156" height="5" fill="#f6f6f6"/>
<rect x="0" y="636" width="1146" height="1" fill="#a8a8a8"/>
<rect x="1" y="613" width="1" height="18" fill="#a0a0a0"/>
<rect x="2" y="613" width="1" height="18" fill="#808080"/>
<rect x="0" y="631" width="3" height="1" fill="#d0d0d0"/>
<text x="19.0" y="626.8" font-size="12" fill="#707070" textLength="80.6" lengthAdjust="spacingAndGlyphs">EURUSD,Daily</text>
<rect x="111" y="615" width="1" height="14" fill="#555555"/>
<text x="121.8" y="626.8" font-size="12" fill="#707070" textLength="82.6" lengthAdjust="spacingAndGlyphs">AUDUSD,Daily</text>
<rect x="216" y="615" width="1" height="14" fill="#555555"/>
<text x="225.2" y="626.8" font-size="12" fill="#707070" textLength="79.3" lengthAdjust="spacingAndGlyphs">USDCHF,Daily</text>
<rect x="316" y="615" width="1" height="14" fill="#555555"/>
<text x="326.2" y="626.8" font-size="12" fill="#707070" textLength="81.2" lengthAdjust="spacingAndGlyphs">USDCAD,Daily</text>
<text x="533" y="626.8" font-size="12" fill="#707070" textLength="67" lengthAdjust="spacingAndGlyphs">EURGBP,H1</text>
<rect x="611" y="615" width="1" height="14" fill="#555555"/>
<text x="622.4" y="626.8" font-size="12" fill="#707070" textLength="69.8" lengthAdjust="spacingAndGlyphs">NZDUSD,H1</text>
<rect x="703" y="615" width="1" height="14" fill="#555555"/>
<rect x="419" y="612" width="104" height="19" fill="#ffffff"/>
<rect x="419" y="612" width="1" height="19" fill="#000"/>
<rect x="522" y="612" width="1" height="19" fill="#000"/>
<rect x="419" y="630" width="104" height="1" fill="#000"/>
<text x="429.2" y="626.8" font-size="12" fill="#000" textLength="83" lengthAdjust="spacingAndGlyphs">USDCNH,Daily</text>
<path d="M1127.5 617.5 L1124 621 L1127.5 624.5 Z" fill="#909090"/>
<path d="M1143 617.5 L1146.5 621 L1143 624.5 Z" fill="#909090"/>
</svg>
</body></html>
